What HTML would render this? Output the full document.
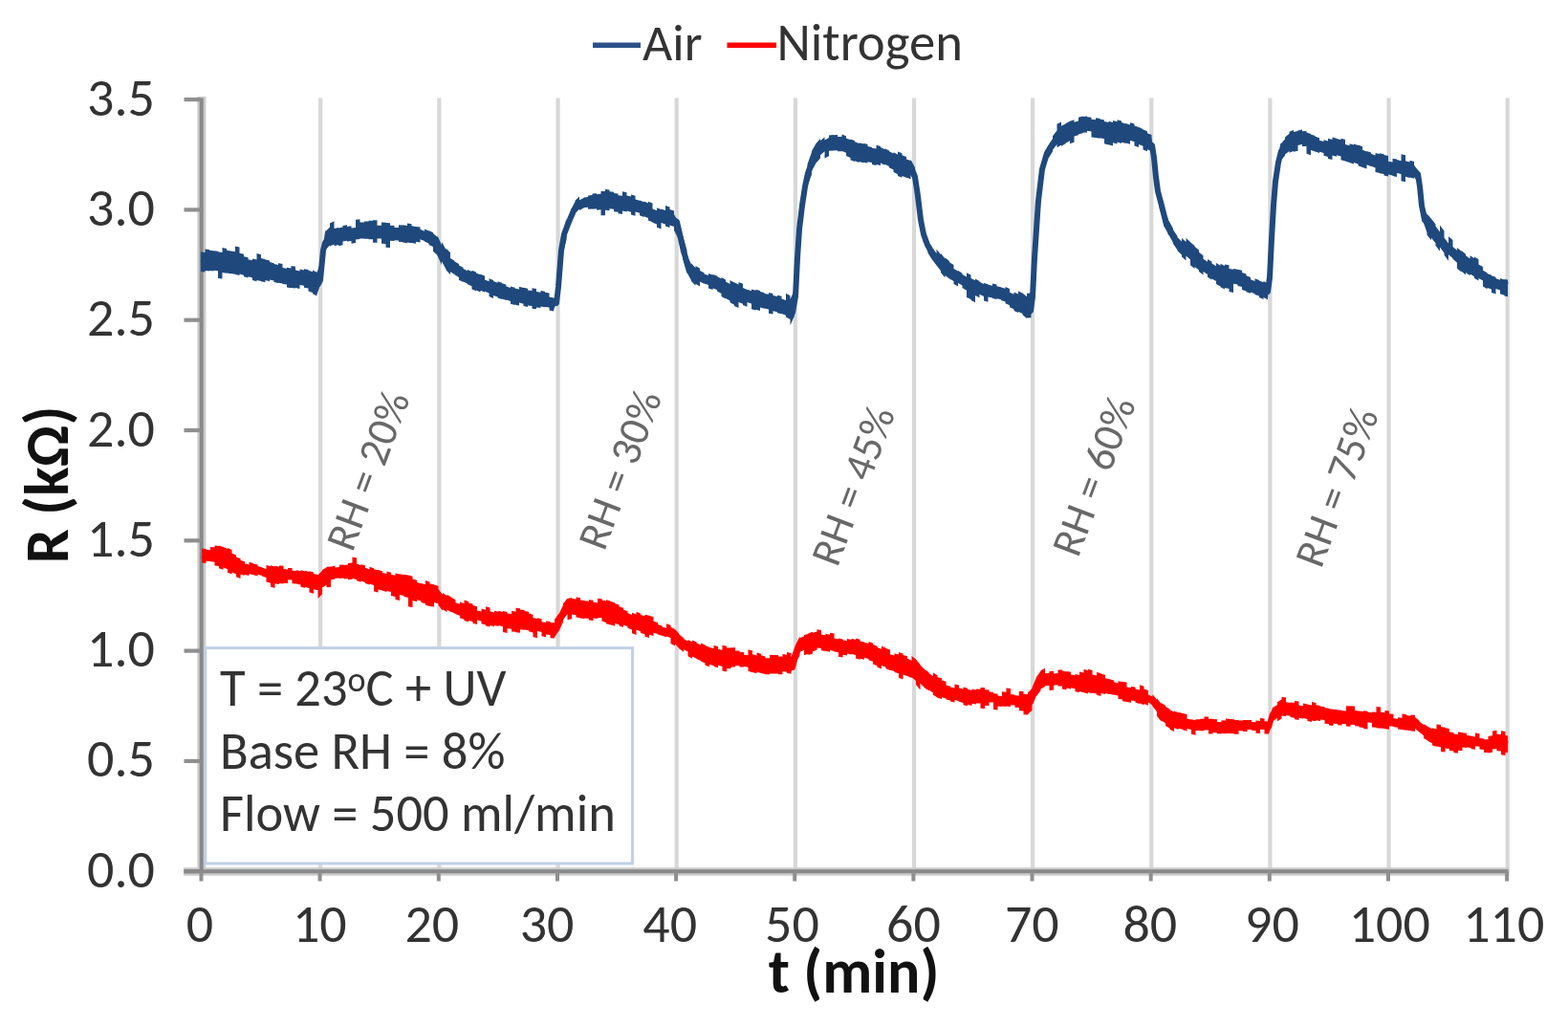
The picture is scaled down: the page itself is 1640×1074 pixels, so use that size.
<!DOCTYPE html>
<html><head><meta charset="utf-8"><title>Resistance vs time</title>
<style>html,body{margin:0;padding:0;background:#fff;} svg{display:block;filter:blur(0.6px)} text{font-family:Carlito, 'Liberation Sans', sans-serif;}</style>
</head><body>
<svg width="1640" height="1074" viewBox="0 0 1640 1074">
<rect width="1640" height="1074" fill="#fff"/>

<line x1="335.2" y1="102.6" x2="335.2" y2="911.2" stroke="#d8d8d8" stroke-width="4.2"/>
<line x1="459.4" y1="102.6" x2="459.4" y2="911.2" stroke="#d8d8d8" stroke-width="4.2"/>
<line x1="583.6" y1="102.6" x2="583.6" y2="911.2" stroke="#d8d8d8" stroke-width="4.2"/>
<line x1="707.7" y1="102.6" x2="707.7" y2="911.2" stroke="#d8d8d8" stroke-width="4.2"/>
<line x1="831.9" y1="102.6" x2="831.9" y2="911.2" stroke="#d8d8d8" stroke-width="4.2"/>
<line x1="956.0" y1="102.6" x2="956.0" y2="911.2" stroke="#d8d8d8" stroke-width="4.2"/>
<line x1="1080.1" y1="102.6" x2="1080.1" y2="911.2" stroke="#d8d8d8" stroke-width="4.2"/>
<line x1="1204.3" y1="102.6" x2="1204.3" y2="911.2" stroke="#d8d8d8" stroke-width="4.2"/>
<line x1="1328.4" y1="102.6" x2="1328.4" y2="911.2" stroke="#d8d8d8" stroke-width="4.2"/>
<line x1="1452.6" y1="102.6" x2="1452.6" y2="911.2" stroke="#d8d8d8" stroke-width="4.2"/>
<line x1="1576.7" y1="102.6" x2="1576.7" y2="911.2" stroke="#d8d8d8" stroke-width="4.2"/>
<line x1="210.9" y1="101.1" x2="210.9" y2="913.2" stroke="#cbcbcb" stroke-width="9"/>
<line x1="192" y1="911.4" x2="1578.5" y2="911.4" stroke="#cbcbcb" stroke-width="8.5"/>
<rect x="214.8" y="677.6" width="446.7" height="225.4" fill="#fff" stroke="#c0d1e7" stroke-width="3"/>
<line x1="210.7" y1="102.6" x2="210.7" y2="912.2" stroke="#898989" stroke-width="4"/>
<line x1="192.5" y1="911.2" x2="210" y2="911.2" stroke="#8f8f8f" stroke-width="4.2"/>
<line x1="192.5" y1="795.9" x2="210" y2="795.9" stroke="#8f8f8f" stroke-width="4.2"/>
<line x1="192.5" y1="680.6" x2="210" y2="680.6" stroke="#8f8f8f" stroke-width="4.2"/>
<line x1="192.5" y1="565.3" x2="210" y2="565.3" stroke="#8f8f8f" stroke-width="4.2"/>
<line x1="192.5" y1="450.0" x2="210" y2="450.0" stroke="#8f8f8f" stroke-width="4.2"/>
<line x1="192.5" y1="334.7" x2="210" y2="334.7" stroke="#8f8f8f" stroke-width="4.2"/>
<line x1="192.5" y1="219.4" x2="210" y2="219.4" stroke="#8f8f8f" stroke-width="4.2"/>
<line x1="192.5" y1="104.1" x2="210" y2="104.1" stroke="#8f8f8f" stroke-width="4.2"/>
<line x1="192.5" y1="911.2" x2="1577.5" y2="911.2" stroke="#898989" stroke-width="4"/>
<line x1="210.5" y1="911.2" x2="210.5" y2="921.5" stroke="#8f8f8f" stroke-width="4"/>
<line x1="334.6" y1="911.2" x2="334.6" y2="921.5" stroke="#8f8f8f" stroke-width="4"/>
<line x1="458.8" y1="911.2" x2="458.8" y2="921.5" stroke="#8f8f8f" stroke-width="4"/>
<line x1="583.0" y1="911.2" x2="583.0" y2="921.5" stroke="#8f8f8f" stroke-width="4"/>
<line x1="707.1" y1="911.2" x2="707.1" y2="921.5" stroke="#8f8f8f" stroke-width="4"/>
<line x1="831.2" y1="911.2" x2="831.2" y2="921.5" stroke="#8f8f8f" stroke-width="4"/>
<line x1="955.4" y1="911.2" x2="955.4" y2="921.5" stroke="#8f8f8f" stroke-width="4"/>
<line x1="1079.5" y1="911.2" x2="1079.5" y2="921.5" stroke="#8f8f8f" stroke-width="4"/>
<line x1="1203.7" y1="911.2" x2="1203.7" y2="921.5" stroke="#8f8f8f" stroke-width="4"/>
<line x1="1327.8" y1="911.2" x2="1327.8" y2="921.5" stroke="#8f8f8f" stroke-width="4"/>
<line x1="1452.0" y1="911.2" x2="1452.0" y2="921.5" stroke="#8f8f8f" stroke-width="4"/>
<line x1="1576.1" y1="911.2" x2="1576.1" y2="921.5" stroke="#8f8f8f" stroke-width="4"/>
<text x="162" y="927.7" font-size="56" fill="#333" text-anchor="end" textLength="70.9" lengthAdjust="spacingAndGlyphs">0.0</text>
<text x="162" y="812.4" font-size="56" fill="#333" text-anchor="end" textLength="70.9" lengthAdjust="spacingAndGlyphs">0.5</text>
<text x="162" y="697.1" font-size="56" fill="#333" text-anchor="end" textLength="70.9" lengthAdjust="spacingAndGlyphs">1.0</text>
<text x="162" y="581.8" font-size="56" fill="#333" text-anchor="end" textLength="70.9" lengthAdjust="spacingAndGlyphs">1.5</text>
<text x="162" y="466.5" font-size="56" fill="#333" text-anchor="end" textLength="70.9" lengthAdjust="spacingAndGlyphs">2.0</text>
<text x="162" y="351.2" font-size="56" fill="#333" text-anchor="end" textLength="70.9" lengthAdjust="spacingAndGlyphs">2.5</text>
<text x="162" y="235.9" font-size="56" fill="#333" text-anchor="end" textLength="70.9" lengthAdjust="spacingAndGlyphs">3.0</text>
<text x="162" y="120.6" font-size="56" fill="#333" text-anchor="end" textLength="70.9" lengthAdjust="spacingAndGlyphs">3.5</text>
<text x="209.0" y="984.5" font-size="56" fill="#333" text-anchor="middle" textLength="28.4" lengthAdjust="spacingAndGlyphs">0</text>
<text x="334.3" y="984.5" font-size="56" fill="#333" text-anchor="middle" textLength="56.77" lengthAdjust="spacingAndGlyphs">10</text>
<text x="451.8" y="984.5" font-size="56" fill="#333" text-anchor="middle" textLength="56.77" lengthAdjust="spacingAndGlyphs">20</text>
<text x="572.1" y="984.5" font-size="56" fill="#333" text-anchor="middle" textLength="56.77" lengthAdjust="spacingAndGlyphs">30</text>
<text x="700.7" y="984.5" font-size="56" fill="#333" text-anchor="middle" textLength="56.77" lengthAdjust="spacingAndGlyphs">40</text>
<text x="828.4" y="984.5" font-size="56" fill="#333" text-anchor="middle" textLength="56.77" lengthAdjust="spacingAndGlyphs">50</text>
<text x="955.4" y="984.5" font-size="56" fill="#333" text-anchor="middle" textLength="56.77" lengthAdjust="spacingAndGlyphs">60</text>
<text x="1079.3" y="984.5" font-size="56" fill="#333" text-anchor="middle" textLength="56.77" lengthAdjust="spacingAndGlyphs">70</text>
<text x="1202.8" y="984.5" font-size="56" fill="#333" text-anchor="middle" textLength="56.77" lengthAdjust="spacingAndGlyphs">80</text>
<text x="1330.5" y="984.5" font-size="56" fill="#333" text-anchor="middle" textLength="56.77" lengthAdjust="spacingAndGlyphs">90</text>
<text x="1453.3" y="984.5" font-size="56" fill="#333" text-anchor="middle" textLength="85.16" lengthAdjust="spacingAndGlyphs">100</text>
<text x="1572.8" y="984.5" font-size="56" fill="#333" text-anchor="middle" textLength="85.16" lengthAdjust="spacingAndGlyphs">110</text>
<text x="893" y="1037.5" font-size="64" font-weight="bold" fill="#111" text-anchor="middle" textLength="178.66" lengthAdjust="spacingAndGlyphs">t (min)</text>
<text transform="translate(70.5,507) rotate(-90)" font-size="64" font-weight="bold" fill="#111" text-anchor="middle" textLength="164.66" lengthAdjust="spacingAndGlyphs">R (kΩ)</text>
<line x1="620" y1="47.2" x2="670" y2="47.2" stroke="#2a5189" stroke-width="5.5"/>
<text x="672" y="63.3" font-size="54" fill="#333" textLength="62.47" lengthAdjust="spacingAndGlyphs">Air</text>
<line x1="760.5" y1="47.2" x2="812" y2="47.2" stroke="#ff0000" stroke-width="5.5"/>
<text x="812.5" y="63.3" font-size="54.7" fill="#333" textLength="194.44" lengthAdjust="spacingAndGlyphs">Nitrogen</text>
<text x="230" y="737.6" font-size="54.5" fill="#333" textLength="299.33" lengthAdjust="spacingAndGlyphs">T = 23<tspan font-size="36" dy="-15">o</tspan><tspan dy="15">C + UV</tspan></text>
<text x="230" y="804" font-size="54.5" fill="#333" textLength="298.42" lengthAdjust="spacingAndGlyphs">Base RH = 8%</text>
<text x="230" y="869.3" font-size="54.5" fill="#333" textLength="413.78" lengthAdjust="spacingAndGlyphs">Flow = 500 ml/min</text>
<text transform="translate(368.5,578.4) rotate(-69.5)" font-size="45" fill="#686868" textLength="173.02" lengthAdjust="spacingAndGlyphs">RH = 20%</text>
<text transform="translate(632,577.5) rotate(-69.5)" font-size="45" fill="#686868" textLength="173.02" lengthAdjust="spacingAndGlyphs">RH = 30%</text>
<text transform="translate(875.8,594.3) rotate(-69.5)" font-size="45" fill="#686868" textLength="173.02" lengthAdjust="spacingAndGlyphs">RH = 45%</text>
<text transform="translate(1127.6,584.3) rotate(-69.5)" font-size="45" fill="#686868" textLength="173.02" lengthAdjust="spacingAndGlyphs">RH = 60%</text>
<text transform="translate(1381.7,595.7) rotate(-69.5)" font-size="45" fill="#686868" textLength="173.02" lengthAdjust="spacingAndGlyphs">RH = 75%</text>
<path d="M211.0,573.6 L215.5,574.1 L215.5,574.7 L220.0,575.2 L220.0,572.1 L224.5,572.6 L224.5,570.6 L229.0,571.1 L229.0,570.5 L233.5,572.0 L233.5,572.1 L238.0,573.9 L238.0,573.1 L242.5,574.9 L242.5,578.6 L247.0,580.4 L247.0,582.4 L251.5,584.0 L251.5,586.1 L256.0,587.2 L256.0,590.5 L260.5,591.6 L260.5,587.7 L265.0,588.9 L265.0,589.5 L269.5,590.6 L269.5,592.0 L274.0,593.3 L274.0,593.6 L278.5,595.0 L278.5,590.9 L283.0,592.3 L283.0,591.2 L287.5,592.5 L287.5,591.8 L292.0,592.7 L292.0,591.5 L296.5,591.7 L296.5,595.1 L301.0,595.4 L301.0,593.9 L305.5,594.1 L305.5,596.7 L310.0,596.9 L310.0,596.2 L314.5,597.3 L314.5,596.3 L319.0,597.4 L319.0,596.8 L323.5,597.9 L323.5,597.3 L328.0,598.4 L328.0,600.0 L332.5,601.0 L332.5,601.6 L337.0,596.7 L337.0,596.1 L341.5,593.4 L341.5,592.7 L346.0,592.5 L346.0,592.5 L350.5,591.7 L350.5,593.4 L355.0,592.9 L355.0,590.8 L359.5,590.4 L359.5,591.0 L364.0,590.5 L364.0,589.0 L368.5,588.5 L368.5,582.6 L373.0,583.5 L373.0,589.6 L377.5,591.2 L377.5,589.9 L382.0,591.4 L382.0,593.8 L386.5,595.4 L386.5,592.7 L391.0,594.2 L391.0,595.2 L395.5,596.3 L395.5,596.0 L400.0,597.2 L400.0,598.9 L404.5,600.0 L404.5,597.6 L409.0,598.7 L409.0,600.8 L413.5,601.7 L413.5,599.5 L418.0,600.4 L418.0,600.3 L422.5,601.2 L422.5,600.7 L427.0,601.6 L427.0,601.6 L431.5,602.7 L431.5,605.4 L436.0,606.8 L436.0,609.0 L440.5,610.3 L440.5,609.9 L445.0,611.3 L445.0,607.1 L449.5,608.5 L449.5,610.6 L454.0,611.2 L454.0,611.4 L458.5,612.7 L458.5,616.1 L463.0,622.0 L463.0,620.1 L467.5,622.9 L467.5,621.8 L472.0,624.5 L472.0,624.8 L476.5,627.2 L476.5,630.3 L481.0,631.8 L481.0,629.5 L485.5,631.0 L485.5,627.5 L490.0,629.0 L490.0,630.4 L494.5,631.5 L494.5,633.1 L499.0,634.2 L499.0,638.5 L503.5,639.6 L503.5,636.6 L508.0,637.7 L508.0,634.3 L512.5,635.5 L512.5,639.2 L517.0,640.4 L517.0,638.7 L521.5,639.8 L521.5,638.8 L526.0,639.9 L526.0,638.9 L530.5,640.0 L530.5,641.5 L535.0,641.9 L535.0,639.1 L539.5,639.5 L539.5,635.7 L544.0,636.2 L544.0,637.4 L548.5,637.9 L548.5,638.9 L553.0,639.8 L553.0,641.6 L557.5,642.7 L557.5,645.9 L562.0,647.1 L562.0,646.2 L566.5,647.3 L566.5,650.2 L571.0,651.1 L571.0,649.5 L575.5,649.9 L575.5,651.0 L580.0,651.3 L580.0,648.1 L584.5,641.6 L584.5,642.2 L589.0,632.9 L589.0,631.3 L593.5,625.8 L593.5,626.1 L598.0,625.0 L598.0,626.0 L602.5,626.6 L602.5,624.6 L607.0,625.2 L607.0,627.4 L611.5,628.0 L611.5,628.2 L616.0,628.7 L616.0,627.2 L620.5,627.7 L620.5,629.8 L625.0,630.2 L625.0,625.8 L629.5,626.3 L629.5,627.4 L634.0,628.6 L634.0,627.2 L638.5,628.5 L638.5,628.9 L643.0,630.2 L643.0,631.1 L647.5,632.5 L647.5,634.3 L652.0,635.8 L652.0,637.4 L656.5,639.2 L656.5,641.1 L661.0,642.9 L661.0,640.8 L665.5,642.6 L665.5,639.7 L670.0,641.5 L670.0,643.1 L674.5,644.2 L674.5,642.7 L679.0,643.8 L679.0,643.9 L683.5,645.1 L683.5,649.8 L688.0,650.9 L688.0,653.1 L692.5,654.4 L692.5,655.4 L697.0,656.9 L697.0,652.2 L701.5,653.7 L701.5,655.8 L706.0,658.1 L706.0,657.9 L710.5,663.0 L710.5,663.7 L715.0,667.1 L715.0,668.1 L719.5,670.5 L719.5,668.9 L724.0,671.3 L724.0,669.4 L728.5,671.5 L728.5,672.3 L733.0,674.4 L733.0,672.5 L737.5,674.6 L737.5,675.1 L742.0,676.8 L742.0,677.0 L746.5,678.1 L746.5,675.0 L751.0,676.1 L751.0,678.7 L755.5,679.8 L755.5,674.7 L760.0,675.8 L760.0,677.4 L764.5,677.4 L764.5,677.3 L769.0,677.3 L769.0,680.6 L773.5,680.6 L773.5,682.0 L778.0,682.0 L778.0,684.5 L782.5,685.3 L782.5,679.2 L787.0,680.6 L787.0,684.3 L791.5,685.6 L791.5,682.4 L796.0,683.8 L796.0,685.3 L800.5,686.5 L800.5,688.3 L805.0,688.3 L805.0,684.9 L809.5,684.9 L809.5,685.1 L814.0,685.1 L814.0,686.5 L818.5,686.5 L818.5,684.1 L823.0,684.8 L823.0,682.0 L827.5,683.0 L827.5,687.3 L832.0,674.6 L832.0,674.6 L836.5,665.6 L836.5,667.2 L841.0,665.2 L841.0,664.0 L845.5,662.9 L845.5,662.2 L850.0,660.8 L850.0,661.8 L854.5,660.4 L854.5,658.2 L859.0,658.9 L859.0,663.4 L863.5,664.3 L863.5,662.8 L868.0,663.7 L868.0,661.7 L872.5,662.6 L872.5,667.6 L877.0,668.5 L877.0,667.6 L881.5,668.5 L881.5,669.3 L886.0,670.2 L886.0,668.0 L890.5,669.0 L890.5,667.8 L895.0,668.9 L895.0,667.6 L899.5,668.7 L899.5,670.5 L904.0,671.6 L904.0,671.8 L908.5,672.9 L908.5,671.0 L913.0,672.6 L913.0,673.9 L917.5,675.7 L917.5,676.9 L922.0,678.7 L922.0,675.8 L926.5,677.6 L926.5,677.9 L931.0,679.6 L931.0,684.2 L935.5,685.6 L935.5,683.2 L940.0,684.6 L940.0,682.1 L944.5,683.4 L944.5,684.9 L949.0,686.3 L949.0,688.7 L953.5,690.7 L953.5,685.9 L958.0,689.6 L958.0,689.5 L962.5,695.0 L962.5,695.5 L967.0,699.9 L967.0,700.0 L971.5,703.0 L971.5,704.0 L976.0,707.0 L976.0,703.4 L980.5,706.2 L980.5,708.2 L985.0,709.3 L985.0,711.6 L989.5,712.8 L989.5,716.5 L994.0,717.7 L994.0,718.5 L998.5,719.6 L998.5,715.4 L1003.0,716.5 L1003.0,719.4 L1007.5,720.5 L1007.5,718.6 L1012.0,719.7 L1012.0,720.7 L1016.5,721.9 L1016.5,720.5 L1021.0,721.4 L1021.0,720.5 L1025.5,720.7 L1025.5,719.1 L1030.0,719.3 L1030.0,721.3 L1034.5,721.5 L1034.5,723.6 L1039.0,723.8 L1039.0,725.2 L1043.5,725.6 L1043.5,727.6 L1048.0,728.1 L1048.0,723.3 L1052.5,723.7 L1052.5,719.5 L1057.0,720.0 L1057.0,726.1 L1061.5,726.5 L1061.5,727.2 L1066.0,727.5 L1066.0,722.8 L1070.5,723.1 L1070.5,725.7 L1075.0,725.9 L1075.0,724.2 L1079.5,719.9 L1079.5,718.7 L1084.0,708.5 L1084.0,707.9 L1088.5,701.7 L1088.5,701.2 L1093.0,698.8 L1093.0,704.2 L1097.5,703.7 L1097.5,702.1 L1102.0,701.7 L1102.0,704.6 L1106.5,704.1 L1106.5,700.6 L1111.0,700.5 L1111.0,701.5 L1115.5,702.4 L1115.5,701.9 L1120.0,702.8 L1120.0,705.4 L1124.5,706.3 L1124.5,705.1 L1129.0,706.0 L1129.0,702.6 L1133.5,703.6 L1133.5,700.0 L1138.0,701.1 L1138.0,699.8 L1142.5,700.9 L1142.5,705.5 L1147.0,706.6 L1147.0,703.0 L1151.5,704.1 L1151.5,704.7 L1156.0,705.8 L1156.0,709.2 L1160.5,710.3 L1160.5,710.3 L1165.0,711.4 L1165.0,713.3 L1169.5,714.4 L1169.5,712.3 L1174.0,713.0 L1174.0,712.9 L1178.5,713.5 L1178.5,718.5 L1183.0,719.2 L1183.0,717.9 L1187.5,718.6 L1187.5,720.5 L1192.0,721.6 L1192.0,716.2 L1196.5,717.8 L1196.5,720.5 L1201.0,722.1 L1201.0,726.3 L1205.5,729.2 L1205.5,726.0 L1210.0,731.7 L1210.0,730.2 L1214.5,735.9 L1214.5,734.9 L1219.0,737.7 L1219.0,739.0 L1223.5,741.4 L1223.5,742.2 L1228.0,744.6 L1228.0,743.6 L1232.5,745.3 L1232.5,744.8 L1237.0,745.9 L1237.0,746.0 L1241.5,747.1 L1241.5,751.4 L1246.0,752.6 L1246.0,752.2 L1250.5,753.2 L1250.5,752.3 L1255.0,752.3 L1255.0,751.8 L1259.5,751.8 L1259.5,749.4 L1264.0,749.4 L1264.0,751.8 L1268.5,751.8 L1268.5,752.1 L1273.0,752.3 L1273.0,754.9 L1277.5,755.2 L1277.5,753.2 L1282.0,753.4 L1282.0,751.6 L1286.5,751.8 L1286.5,752.0 L1291.0,752.2 L1291.0,752.9 L1295.5,752.9 L1295.5,753.4 L1300.0,753.4 L1300.0,753.1 L1304.5,753.1 L1304.5,752.9 L1309.0,752.9 L1309.0,755.1 L1313.5,755.3 L1313.5,753.6 L1318.0,753.9 L1318.0,751.1 L1322.5,751.4 L1322.5,754.2 L1327.0,754.5 L1327.0,752.1 L1331.5,738.7 L1331.5,740.0 L1336.0,737.0 L1336.0,734.2 L1340.5,731.6 L1340.5,728.8 L1345.0,729.5 L1345.0,734.2 L1349.5,734.9 L1349.5,734.5 L1354.0,735.1 L1354.0,732.9 L1358.5,733.6 L1358.5,737.5 L1363.0,738.3 L1363.0,735.5 L1367.5,736.4 L1367.5,736.7 L1372.0,737.6 L1372.0,734.1 L1376.5,735.0 L1376.5,737.2 L1381.0,738.0 L1381.0,738.7 L1385.5,739.1 L1385.5,740.2 L1390.0,740.7 L1390.0,741.3 L1394.5,741.8 L1394.5,741.8 L1399.0,742.3 L1399.0,742.5 L1403.5,742.8 L1403.5,743.3 L1408.0,743.5 L1408.0,738.3 L1412.5,738.5 L1412.5,738.2 L1417.0,738.5 L1417.0,743.1 L1421.5,743.4 L1421.5,743.5 L1426.0,743.9 L1426.0,743.3 L1430.5,743.7 L1430.5,744.7 L1435.0,745.2 L1435.0,744.4 L1439.5,744.8 L1439.5,739.0 L1444.0,739.5 L1444.0,744.7 L1448.5,745.2 L1448.5,743.0 L1453.0,743.4 L1453.0,746.4 L1457.5,746.8 L1457.5,751.2 L1462.0,751.7 L1462.0,750.2 L1466.5,750.8 L1466.5,746.4 L1471.0,747.1 L1471.0,748.1 L1475.5,748.8 L1475.5,747.4 L1480.0,748.0 L1480.0,749.9 L1484.5,753.5 L1484.5,754.4 L1489.0,758.0 L1489.0,757.2 L1493.5,759.8 L1493.5,760.1 L1498.0,762.3 L1498.0,761.2 L1502.5,762.5 L1502.5,757.4 L1507.0,758.0 L1507.0,760.0 L1511.5,760.7 L1511.5,761.2 L1516.0,761.9 L1516.0,765.4 L1520.5,766.1 L1520.5,767.4 L1525.0,767.9 L1525.0,765.4 L1529.5,765.9 L1529.5,766.3 L1534.0,766.7 L1534.0,769.1 L1538.5,769.6 L1538.5,769.8 L1543.0,770.4 L1543.0,766.6 L1547.5,767.2 L1547.5,772.0 L1552.0,772.6 L1552.0,773.2 L1556.5,773.3 L1556.5,770.0 L1561.0,769.3 L1561.0,764.5 L1565.5,763.8 L1565.5,767.7 L1570.0,768.1 L1570.0,764.2 L1574.5,765.1 L1574.5,769.0 L1577.0,769.5 L1577.0,787.3 L1574.5,786.8 L1574.5,790.1 L1570.0,789.2 L1570.0,785.6 L1565.5,785.2 L1565.5,782.9 L1561.0,783.6 L1561.0,786.7 L1556.5,787.4 L1556.5,787.0 L1552.0,786.9 L1552.0,784.0 L1547.5,783.4 L1547.5,780.8 L1543.0,780.2 L1543.0,783.7 L1538.5,783.2 L1538.5,781.9 L1534.0,781.4 L1534.0,782.0 L1529.5,781.6 L1529.5,785.2 L1525.0,784.8 L1525.0,787.6 L1520.5,787.2 L1520.5,785.6 L1516.0,784.9 L1516.0,783.3 L1511.5,782.6 L1511.5,786.6 L1507.0,785.9 L1507.0,781.2 L1502.5,780.6 L1502.5,780.8 L1498.0,779.4 L1498.0,777.3 L1493.5,775.0 L1493.5,774.5 L1489.0,772.0 L1489.0,769.1 L1484.5,765.5 L1484.5,765.2 L1480.0,761.6 L1480.0,765.0 L1475.5,764.3 L1475.5,764.2 L1471.0,763.5 L1471.0,763.7 L1466.5,763.0 L1466.5,763.1 L1462.0,762.4 L1462.0,760.8 L1457.5,760.2 L1457.5,759.7 L1453.0,759.2 L1453.0,762.7 L1448.5,762.2 L1448.5,762.0 L1444.0,761.6 L1444.0,761.8 L1439.5,761.3 L1439.5,760.8 L1435.0,760.4 L1435.0,755.7 L1430.5,755.2 L1430.5,762.4 L1426.0,762.0 L1426.0,761.0 L1421.5,760.6 L1421.5,759.6 L1417.0,759.3 L1417.0,758.1 L1412.5,757.8 L1412.5,759.8 L1408.0,759.6 L1408.0,757.3 L1403.5,757.0 L1403.5,758.5 L1399.0,758.2 L1399.0,756.9 L1394.5,756.5 L1394.5,759.1 L1390.0,758.6 L1390.0,757.1 L1385.5,756.7 L1385.5,752.9 L1381.0,752.4 L1381.0,754.1 L1376.5,753.3 L1376.5,754.3 L1372.0,753.4 L1372.0,755.0 L1367.5,754.1 L1367.5,752.0 L1363.0,751.1 L1363.0,751.6 L1358.5,750.8 L1358.5,752.9 L1354.0,752.2 L1354.0,750.8 L1349.5,750.1 L1349.5,748.8 L1345.0,748.1 L1345.0,749.1 L1340.5,748.5 L1340.5,751.6 L1336.0,754.2 L1336.0,750.9 L1331.5,753.9 L1331.5,754.2 L1327.0,767.5 L1327.0,767.6 L1322.5,767.4 L1322.5,763.1 L1318.0,762.8 L1318.0,767.1 L1313.5,766.8 L1313.5,763.9 L1309.0,763.7 L1309.0,763.1 L1304.5,763.1 L1304.5,764.9 L1300.0,764.9 L1300.0,764.2 L1295.5,764.2 L1295.5,767.8 L1291.0,767.8 L1291.0,767.2 L1286.5,767.0 L1286.5,767.1 L1282.0,766.9 L1282.0,767.2 L1277.5,766.9 L1277.5,767.6 L1273.0,767.3 L1273.0,766.2 L1268.5,766.1 L1268.5,767.5 L1264.0,767.5 L1264.0,763.6 L1259.5,763.6 L1259.5,764.2 L1255.0,764.2 L1255.0,764.0 L1250.5,764.0 L1250.5,768.8 L1246.0,767.8 L1246.0,763.0 L1241.5,761.9 L1241.5,764.4 L1237.0,763.2 L1237.0,762.8 L1232.5,761.7 L1232.5,762.9 L1228.0,761.2 L1228.0,765.1 L1223.5,762.7 L1223.5,761.5 L1219.0,759.1 L1219.0,756.2 L1214.5,753.4 L1214.5,754.4 L1210.0,748.7 L1210.0,744.2 L1205.5,738.4 L1205.5,737.6 L1201.0,734.6 L1201.0,737.7 L1196.5,736.1 L1196.5,737.2 L1192.0,735.6 L1192.0,735.9 L1187.5,734.8 L1187.5,733.3 L1183.0,732.6 L1183.0,734.8 L1178.5,734.1 L1178.5,734.0 L1174.0,733.3 L1174.0,731.5 L1169.5,730.8 L1169.5,727.5 L1165.0,726.4 L1165.0,726.8 L1160.5,725.7 L1160.5,726.1 L1156.0,725.0 L1156.0,726.0 L1151.5,724.9 L1151.5,728.0 L1147.0,726.8 L1147.0,725.5 L1142.5,724.4 L1142.5,725.2 L1138.0,724.0 L1138.0,725.4 L1133.5,724.2 L1133.5,724.2 L1129.0,723.1 L1129.0,724.1 L1124.5,723.2 L1124.5,720.2 L1120.0,719.3 L1120.0,720.4 L1115.5,719.5 L1115.5,721.5 L1111.0,720.6 L1111.0,717.5 L1106.5,717.6 L1106.5,716.3 L1102.0,716.8 L1102.0,721.6 L1097.5,722.1 L1097.5,716.9 L1093.0,717.3 L1093.0,718.1 L1088.5,720.5 L1088.5,722.1 L1084.0,728.2 L1084.0,727.3 L1079.5,737.5 L1079.5,742.8 L1075.0,747.1 L1075.0,747.6 L1070.5,747.3 L1070.5,743.4 L1066.0,743.2 L1066.0,740.0 L1061.5,739.7 L1061.5,737.6 L1057.0,737.2 L1057.0,739.0 L1052.5,738.5 L1052.5,739.1 L1048.0,738.6 L1048.0,738.9 L1043.5,738.4 L1043.5,742.5 L1039.0,742.1 L1039.0,734.6 L1034.5,734.4 L1034.5,738.1 L1030.0,737.9 L1030.0,741.0 L1025.5,740.8 L1025.5,735.6 L1021.0,735.4 L1021.0,736.6 L1016.5,735.7 L1016.5,737.9 L1012.0,736.8 L1012.0,738.3 L1007.5,737.2 L1007.5,735.0 L1003.0,733.8 L1003.0,733.2 L998.5,732.1 L998.5,734.6 L994.0,733.4 L994.0,732.6 L989.5,731.4 L989.5,730.4 L985.0,729.3 L985.0,730.9 L980.5,729.8 L980.5,729.6 L976.0,726.8 L976.0,724.4 L971.5,721.4 L971.5,722.2 L967.0,719.2 L967.0,719.1 L962.5,714.7 L962.5,721.6 L958.0,716.1 L958.0,711.9 L953.5,708.3 L953.5,709.1 L949.0,707.1 L949.0,706.9 L944.5,705.5 L944.5,710.3 L940.0,708.9 L940.0,704.3 L935.5,703.0 L935.5,702.0 L931.0,700.7 L931.0,700.9 L926.5,699.2 L926.5,697.8 L922.0,696.0 L922.0,699.5 L917.5,697.7 L917.5,696.2 L913.0,694.4 L913.0,691.8 L908.5,690.3 L908.5,688.9 L904.0,687.8 L904.0,689.8 L899.5,688.7 L899.5,689.7 L895.0,688.6 L895.0,685.1 L890.5,684.0 L890.5,684.4 L886.0,683.5 L886.0,685.6 L881.5,684.7 L881.5,687.6 L877.0,686.7 L877.0,682.3 L872.5,681.4 L872.5,680.9 L868.0,680.0 L868.0,681.7 L863.5,680.8 L863.5,681.1 L859.0,680.2 L859.0,678.1 L854.5,677.4 L854.5,679.8 L850.0,681.2 L850.0,683.5 L845.5,684.9 L845.5,683.9 L841.0,685.1 L841.0,679.8 L836.5,681.8 L836.5,685.2 L832.0,694.2 L832.0,690.2 L827.5,702.9 L827.5,704.8 L823.0,703.8 L823.0,702.7 L818.5,702.1 L818.5,705.2 L814.0,705.2 L814.0,704.5 L809.5,704.5 L809.5,704.5 L805.0,704.5 L805.0,705.3 L800.5,705.3 L800.5,705.1 L796.0,703.9 L796.0,703.9 L791.5,702.6 L791.5,704.2 L787.0,702.9 L787.0,703.2 L782.5,701.8 L782.5,697.7 L778.0,696.9 L778.0,697.6 L773.5,697.6 L773.5,696.2 L769.0,696.2 L769.0,697.6 L764.5,697.6 L764.5,699.3 L760.0,699.3 L760.0,702.5 L755.5,701.4 L755.5,696.9 L751.0,695.7 L751.0,698.2 L746.5,697.1 L746.5,696.1 L742.0,695.0 L742.0,697.3 L737.5,695.7 L737.5,693.5 L733.0,691.4 L733.0,691.1 L728.5,689.0 L728.5,688.7 L724.0,686.5 L724.0,688.8 L719.5,686.3 L719.5,681.6 L715.0,679.2 L715.0,681.7 L710.5,678.4 L710.5,678.4 L706.0,673.2 L706.0,675.4 L701.5,673.1 L701.5,666.9 L697.0,665.4 L697.0,666.2 L692.5,664.7 L692.5,664.7 L688.0,663.4 L688.0,662.9 L683.5,661.7 L683.5,664.9 L679.0,663.8 L679.0,666.9 L674.5,665.7 L674.5,663.2 L670.0,662.1 L670.0,660.2 L665.5,658.4 L665.5,664.1 L661.0,662.3 L661.0,658.5 L656.5,656.7 L656.5,655.2 L652.0,653.4 L652.0,656.1 L647.5,654.6 L647.5,653.2 L643.0,651.8 L643.0,654.7 L638.5,653.3 L638.5,653.5 L634.0,652.2 L634.0,650.9 L629.5,649.6 L629.5,646.3 L625.0,645.9 L625.0,646.9 L620.5,646.5 L620.5,648.9 L616.0,648.4 L616.0,647.1 L611.5,646.6 L611.5,647.1 L607.0,646.5 L607.0,646.2 L602.5,645.6 L602.5,643.2 L598.0,642.6 L598.0,647.2 L593.5,648.3 L593.5,642.3 L589.0,647.8 L589.0,650.6 L584.5,660.0 L584.5,659.8 L580.0,666.3 L580.0,667.6 L575.5,667.3 L575.5,663.9 L571.0,663.5 L571.0,666.2 L566.5,665.3 L566.5,661.1 L562.0,660.0 L562.0,667.2 L557.5,666.0 L557.5,661.4 L553.0,660.3 L553.0,659.3 L548.5,658.4 L548.5,658.7 L544.0,658.2 L544.0,661.7 L539.5,661.3 L539.5,660.8 L535.0,660.4 L535.0,657.7 L530.5,657.2 L530.5,661.9 L526.0,660.9 L526.0,655.2 L521.5,654.0 L521.5,655.1 L517.0,653.9 L517.0,655.2 L512.5,654.0 L512.5,655.5 L508.0,654.4 L508.0,653.5 L503.5,652.3 L503.5,649.5 L499.0,648.4 L499.0,652.9 L494.5,651.7 L494.5,650.0 L490.0,648.9 L490.0,650.5 L485.5,649.0 L485.5,647.8 L481.0,646.3 L481.0,643.7 L476.5,642.2 L476.5,642.0 L472.0,639.7 L472.0,640.2 L467.5,637.4 L467.5,640.0 L463.0,637.3 L463.0,638.8 L458.5,632.9 L458.5,631.3 L454.0,630.0 L454.0,634.6 L449.5,633.9 L449.5,634.1 L445.0,632.7 L445.0,631.3 L440.5,629.9 L440.5,628.6 L436.0,627.2 L436.0,629.2 L431.5,627.9 L431.5,635.3 L427.0,634.2 L427.0,624.9 L422.5,624.0 L422.5,622.9 L418.0,622.0 L418.0,628.0 L413.5,627.1 L413.5,624.1 L409.0,623.1 L409.0,619.1 L404.5,617.9 L404.5,618.9 L400.0,617.7 L400.0,617.5 L395.5,616.4 L395.5,619.5 L391.0,618.4 L391.0,612.1 L386.5,610.6 L386.5,611.6 L382.0,610.0 L382.0,609.0 L377.5,607.4 L377.5,608.8 L373.0,607.2 L373.0,606.0 L368.5,605.1 L368.5,605.7 L364.0,606.2 L364.0,605.0 L359.5,605.5 L359.5,604.5 L355.0,604.9 L355.0,604.4 L350.5,604.8 L350.5,605.6 L346.0,606.4 L346.0,614.0 L341.5,614.2 L341.5,611.7 L337.0,614.4 L337.0,621.2 L332.5,626.1 L332.5,617.2 L328.0,616.2 L328.0,620.8 L323.5,619.6 L323.5,615.1 L319.0,614.0 L319.0,614.8 L314.5,613.7 L314.5,611.6 L310.0,610.5 L310.0,610.4 L305.5,610.2 L305.5,606.6 L301.0,606.3 L301.0,609.9 L296.5,609.7 L296.5,610.4 L292.0,610.1 L292.0,611.1 L287.5,610.3 L287.5,615.0 L283.0,613.6 L283.0,609.8 L278.5,608.4 L278.5,603.9 L274.0,602.5 L274.0,602.0 L269.5,600.7 L269.5,602.5 L265.0,601.3 L265.0,601.2 L260.5,600.1 L260.5,602.1 L256.0,601.0 L256.0,601.8 L251.5,600.7 L251.5,604.9 L247.0,603.3 L247.0,600.3 L242.5,598.5 L242.5,600.5 L238.0,598.7 L238.0,595.2 L233.5,593.4 L233.5,595.8 L229.0,594.3 L229.0,592.0 L224.5,591.5 L224.5,587.8 L220.0,587.3 L220.0,587.1 L215.5,586.7 L215.5,589.0 L211.0,588.5Z" fill="#ff0000" stroke="none"/>
<path d="M211.0,581.0 L212.0,581.1 L213.0,581.2 L214.0,581.3 L215.0,581.4 L216.0,581.5 L217.0,581.6 L218.0,581.7 L219.0,581.8 L220.0,581.9 L221.0,582.1 L222.0,582.2 L223.0,582.3 L224.0,582.4 L225.0,582.5 L226.0,582.6 L227.0,582.7 L228.0,582.8 L229.0,582.9 L230.0,583.0 L231.0,583.4 L232.0,583.8 L233.0,584.2 L234.0,584.6 L235.0,585.0 L236.0,585.4 L237.0,585.8 L238.0,586.2 L239.0,586.6 L240.0,587.0 L241.0,587.4 L242.0,587.8 L243.0,588.2 L244.0,588.6 L245.0,589.0 L246.0,589.4 L247.0,589.8 L248.0,590.2 L249.0,590.6 L250.0,591.0 L251.0,591.2 L252.0,591.5 L253.0,591.8 L254.0,592.0 L255.0,592.2 L256.0,592.5 L257.0,592.8 L258.0,593.0 L259.0,593.2 L260.0,593.5 L261.0,593.8 L262.0,594.0 L263.0,594.2 L264.0,594.5 L265.0,594.8 L266.0,595.0 L267.0,595.2 L268.0,595.5 L269.0,595.8 L270.0,596.0 L271.0,596.3 L272.0,596.6 L273.0,596.9 L274.0,597.2 L275.0,597.5 L276.0,597.8 L277.0,598.1 L278.0,598.4 L279.0,598.7 L280.0,599.0 L281.0,599.3 L282.0,599.6 L283.0,599.9 L284.0,600.2 L285.0,600.5 L286.0,600.8 L287.0,601.1 L288.0,601.4 L289.0,601.7 L290.0,602.0 L291.0,602.0 L292.0,602.1 L293.0,602.1 L294.0,602.2 L295.0,602.2 L296.0,602.3 L297.0,602.4 L298.0,602.4 L299.0,602.5 L300.0,602.5 L301.0,602.5 L302.0,602.6 L303.0,602.6 L304.0,602.7 L305.0,602.8 L306.0,602.8 L307.0,602.9 L308.0,602.9 L309.0,603.0 L310.0,603.0 L311.0,603.2 L312.0,603.5 L313.0,603.8 L314.0,604.0 L315.0,604.2 L316.0,604.5 L317.0,604.8 L318.0,605.0 L319.0,605.2 L320.0,605.5 L321.0,605.8 L322.0,606.0 L323.0,606.2 L324.0,606.5 L325.0,606.8 L326.0,607.0 L327.0,607.2 L328.0,607.5 L329.0,607.8 L330.0,608.0 L331.0,608.2 L332.0,608.4 L333.0,608.6 L334.0,608.8 L335.0,609.0 L336.0,606.3 L337.0,603.7 L338.0,601.0 L339.0,601.0 L340.0,601.0 L341.0,601.0 L342.0,601.0 L343.0,601.0 L344.0,601.0 L345.0,601.0 L346.0,600.8 L347.0,600.6 L348.0,600.4 L349.0,600.2 L350.0,600.0 L351.0,599.9 L352.0,599.8 L353.0,599.7 L354.0,599.6 L355.0,599.5 L356.0,599.4 L357.0,599.3 L358.0,599.2 L359.0,599.1 L360.0,599.0 L361.0,598.9 L362.0,598.8 L363.0,598.7 L364.0,598.6 L365.0,598.5 L366.0,598.4 L367.0,598.3 L368.0,598.2 L369.0,598.1 L370.0,598.0 L371.0,598.4 L372.0,598.7 L373.0,599.0 L374.0,599.4 L375.0,599.8 L376.0,600.1 L377.0,600.5 L378.0,600.8 L379.0,601.1 L380.0,601.5 L381.0,601.9 L382.0,602.2 L383.0,602.5 L384.0,602.9 L385.0,603.2 L386.0,603.6 L387.0,604.0 L388.0,604.3 L389.0,604.6 L390.0,605.0 L391.0,605.2 L392.0,605.5 L393.0,605.8 L394.0,606.0 L395.0,606.2 L396.0,606.5 L397.0,606.8 L398.0,607.0 L399.0,607.2 L400.0,607.5 L401.0,607.8 L402.0,608.0 L403.0,608.2 L404.0,608.5 L405.0,608.8 L406.0,609.0 L407.0,609.2 L408.0,609.5 L409.0,609.8 L410.0,610.0 L411.0,610.2 L412.0,610.4 L413.0,610.6 L414.0,610.8 L415.0,611.0 L416.0,611.2 L417.0,611.4 L418.0,611.6 L419.0,611.8 L420.0,612.0 L421.0,612.2 L422.0,612.4 L423.0,612.6 L424.0,612.8 L425.0,613.0 L426.0,613.2 L427.0,613.4 L428.0,613.6 L429.0,613.8 L430.0,614.0 L431.0,614.3 L432.0,614.6 L433.0,614.9 L434.0,615.2 L435.0,615.5 L436.0,615.8 L437.0,616.1 L438.0,616.4 L439.0,616.7 L440.0,617.0 L441.0,617.3 L442.0,617.6 L443.0,617.9 L444.0,618.2 L445.0,618.5 L446.0,618.8 L447.0,619.1 L448.0,619.4 L449.0,619.7 L450.0,620.0 L451.0,620.1 L452.0,620.2 L453.0,620.4 L454.0,620.5 L455.0,620.6 L456.0,620.8 L457.0,620.9 L458.0,621.0 L459.0,622.5 L460.0,624.0 L461.0,625.5 L462.0,627.0 L463.0,627.6 L464.0,628.2 L465.0,628.8 L466.0,629.5 L467.0,630.1 L468.0,630.7 L469.0,631.3 L470.0,631.9 L471.0,632.5 L472.0,633.2 L473.0,633.8 L474.0,634.4 L475.0,635.0 L476.0,635.3 L477.0,635.7 L478.0,636.0 L479.0,636.3 L480.0,636.7 L481.0,637.0 L482.0,637.3 L483.0,637.7 L484.0,638.0 L485.0,638.3 L486.0,638.7 L487.0,639.0 L488.0,639.3 L489.0,639.7 L490.0,640.0 L491.0,640.2 L492.0,640.5 L493.0,640.8 L494.0,641.0 L495.0,641.2 L496.0,641.5 L497.0,641.8 L498.0,642.0 L499.0,642.2 L500.0,642.5 L501.0,642.8 L502.0,643.0 L503.0,643.2 L504.0,643.5 L505.0,643.8 L506.0,644.0 L507.0,644.2 L508.0,644.5 L509.0,644.8 L510.0,645.0 L511.0,645.2 L512.0,645.5 L513.0,645.8 L514.0,646.0 L515.0,646.2 L516.0,646.5 L517.0,646.8 L518.0,647.0 L519.0,647.2 L520.0,647.5 L521.0,647.8 L522.0,648.0 L523.0,648.2 L524.0,648.5 L525.0,648.8 L526.0,649.0 L527.0,649.2 L528.0,649.5 L529.0,649.8 L530.0,650.0 L531.0,650.1 L532.0,650.2 L533.0,650.3 L534.0,650.4 L535.0,650.5 L536.0,650.6 L537.0,650.7 L538.0,650.8 L539.0,650.9 L540.0,651.0 L541.0,651.1 L542.0,651.2 L543.0,651.3 L544.0,651.4 L545.0,651.5 L546.0,651.6 L547.0,651.7 L548.0,651.8 L549.0,651.9 L550.0,652.0 L551.0,652.2 L552.0,652.5 L553.0,652.8 L554.0,653.0 L555.0,653.2 L556.0,653.5 L557.0,653.8 L558.0,654.0 L559.0,654.2 L560.0,654.5 L561.0,654.8 L562.0,655.0 L563.0,655.2 L564.0,655.5 L565.0,655.8 L566.0,656.0 L567.0,656.2 L568.0,656.5 L569.0,656.8 L570.0,657.0 L571.0,657.1 L572.0,657.2 L573.0,657.2 L574.0,657.3 L575.0,657.4 L576.0,657.5 L577.0,657.6 L578.0,657.7 L579.0,657.8 L580.0,657.8 L581.0,657.9 L582.0,658.0 L583.0,655.3 L584.0,652.7 L585.0,650.0 L586.0,648.0 L587.0,646.0 L588.0,644.0 L589.0,642.0 L590.0,640.0 L591.0,639.0 L592.0,638.0 L593.0,637.0 L594.0,636.0 L595.0,635.0 L596.0,635.1 L597.0,635.3 L598.0,635.4 L599.0,635.5 L600.0,635.7 L601.0,635.8 L602.0,635.9 L603.0,636.1 L604.0,636.2 L605.0,636.3 L606.0,636.5 L607.0,636.6 L608.0,636.7 L609.0,636.9 L610.0,637.0 L611.0,637.1 L612.0,637.2 L613.0,637.3 L614.0,637.4 L615.0,637.5 L616.0,637.6 L617.0,637.7 L618.0,637.8 L619.0,637.9 L620.0,638.0 L621.0,638.1 L622.0,638.2 L623.0,638.3 L624.0,638.4 L625.0,638.5 L626.0,638.6 L627.0,638.7 L628.0,638.8 L629.0,638.9 L630.0,639.0 L631.0,639.3 L632.0,639.6 L633.0,639.9 L634.0,640.2 L635.0,640.5 L636.0,640.8 L637.0,641.1 L638.0,641.4 L639.0,641.7 L640.0,642.0 L641.0,642.3 L642.0,642.6 L643.0,642.9 L644.0,643.2 L645.0,643.5 L646.0,643.8 L647.0,644.1 L648.0,644.4 L649.0,644.7 L650.0,645.0 L651.0,645.4 L652.0,645.8 L653.0,646.2 L654.0,646.6 L655.0,647.0 L656.0,647.4 L657.0,647.8 L658.0,648.2 L659.0,648.6 L660.0,649.0 L661.0,649.4 L662.0,649.8 L663.0,650.2 L664.0,650.6 L665.0,651.0 L666.0,651.4 L667.0,651.8 L668.0,652.2 L669.0,652.6 L670.0,653.0 L671.0,653.2 L672.0,653.5 L673.0,653.8 L674.0,654.0 L675.0,654.2 L676.0,654.5 L677.0,654.8 L678.0,655.0 L679.0,655.2 L680.0,655.5 L681.0,655.8 L682.0,656.0 L683.0,656.2 L684.0,656.5 L685.0,656.8 L686.0,657.0 L687.0,657.2 L688.0,657.5 L689.0,657.8 L690.0,658.0 L691.0,658.3 L692.0,658.7 L693.0,659.0 L694.0,659.3 L695.0,659.7 L696.0,660.0 L697.0,660.3 L698.0,660.7 L699.0,661.0 L700.0,661.3 L701.0,661.7 L702.0,662.0 L703.0,662.3 L704.0,662.7 L705.0,663.0 L706.0,664.1 L707.0,665.3 L708.0,666.4 L709.0,667.6 L710.0,668.7 L711.0,669.9 L712.0,671.0 L713.0,671.5 L714.0,672.1 L715.0,672.6 L716.0,673.2 L717.0,673.7 L718.0,674.2 L719.0,674.8 L720.0,675.3 L721.0,675.8 L722.0,676.4 L723.0,676.9 L724.0,677.5 L725.0,678.0 L726.0,678.5 L727.0,678.9 L728.0,679.4 L729.0,679.9 L730.0,680.3 L731.0,680.8 L732.0,681.3 L733.0,681.7 L734.0,682.2 L735.0,682.7 L736.0,683.1 L737.0,683.6 L738.0,684.1 L739.0,684.5 L740.0,685.0 L741.0,685.2 L742.0,685.5 L743.0,685.8 L744.0,686.0 L745.0,686.2 L746.0,686.5 L747.0,686.8 L748.0,687.0 L749.0,687.2 L750.0,687.5 L751.0,687.8 L752.0,688.0 L753.0,688.2 L754.0,688.5 L755.0,688.8 L756.0,689.0 L757.0,689.2 L758.0,689.5 L759.0,689.8 L760.0,690.0 L761.0,690.0 L762.0,690.0 L763.0,690.0 L764.0,690.0 L765.0,690.0 L766.0,690.0 L767.0,690.0 L768.0,690.0 L769.0,690.0 L770.0,690.0 L771.0,690.0 L772.0,690.0 L773.0,690.0 L774.0,690.0 L775.0,690.0 L776.0,690.0 L777.0,690.0 L778.0,690.0 L779.0,690.0 L780.0,690.0 L781.0,690.3 L782.0,690.6 L783.0,690.9 L784.0,691.2 L785.0,691.5 L786.0,691.8 L787.0,692.1 L788.0,692.4 L789.0,692.7 L790.0,693.0 L791.0,693.3 L792.0,693.6 L793.0,693.9 L794.0,694.2 L795.0,694.5 L796.0,694.8 L797.0,695.1 L798.0,695.4 L799.0,695.7 L800.0,696.0 L801.0,696.0 L802.0,696.0 L803.0,696.0 L804.0,696.0 L805.0,696.0 L806.0,696.0 L807.0,696.0 L808.0,696.0 L809.0,696.0 L810.0,696.0 L811.0,696.0 L812.0,696.0 L813.0,696.0 L814.0,696.0 L815.0,696.0 L816.0,696.0 L817.0,696.0 L818.0,696.0 L819.0,696.0 L820.0,696.0 L821.0,696.2 L822.0,696.4 L823.0,696.7 L824.0,696.9 L825.0,697.1 L826.0,697.3 L827.0,697.6 L828.0,697.8 L829.0,698.0 L830.0,693.7 L831.0,689.3 L832.0,685.0 L833.0,683.0 L834.0,681.0 L835.0,679.0 L836.0,677.0 L837.0,675.0 L838.0,674.8 L839.0,674.5 L840.0,674.2 L841.0,674.0 L842.0,673.8 L843.0,673.5 L844.0,673.2 L845.0,673.0 L846.0,672.7 L847.0,672.4 L848.0,672.1 L849.0,671.8 L850.0,671.5 L851.0,671.2 L852.0,670.9 L853.0,670.6 L854.0,670.3 L855.0,670.0 L856.0,670.2 L857.0,670.4 L858.0,670.6 L859.0,670.8 L860.0,671.0 L861.0,671.2 L862.0,671.4 L863.0,671.6 L864.0,671.8 L865.0,672.0 L866.0,672.2 L867.0,672.4 L868.0,672.6 L869.0,672.8 L870.0,673.0 L871.0,673.2 L872.0,673.4 L873.0,673.6 L874.0,673.8 L875.0,674.0 L876.0,674.2 L877.0,674.4 L878.0,674.6 L879.0,674.8 L880.0,675.0 L881.0,675.2 L882.0,675.4 L883.0,675.6 L884.0,675.8 L885.0,676.0 L886.0,676.2 L887.0,676.4 L888.0,676.6 L889.0,676.8 L890.0,677.0 L891.0,677.2 L892.0,677.5 L893.0,677.8 L894.0,678.0 L895.0,678.2 L896.0,678.5 L897.0,678.8 L898.0,679.0 L899.0,679.2 L900.0,679.5 L901.0,679.8 L902.0,680.0 L903.0,680.2 L904.0,680.5 L905.0,680.8 L906.0,681.0 L907.0,681.2 L908.0,681.5 L909.0,681.8 L910.0,682.0 L911.0,682.4 L912.0,682.8 L913.0,683.2 L914.0,683.6 L915.0,684.0 L916.0,684.4 L917.0,684.8 L918.0,685.2 L919.0,685.6 L920.0,686.0 L921.0,686.4 L922.0,686.8 L923.0,687.2 L924.0,687.6 L925.0,688.0 L926.0,688.4 L927.0,688.8 L928.0,689.2 L929.0,689.6 L930.0,690.0 L931.0,690.3 L932.0,690.6 L933.0,690.9 L934.0,691.2 L935.0,691.5 L936.0,691.8 L937.0,692.1 L938.0,692.4 L939.0,692.7 L940.0,693.0 L941.0,693.3 L942.0,693.6 L943.0,693.9 L944.0,694.2 L945.0,694.5 L946.0,694.8 L947.0,695.1 L948.0,695.4 L949.0,695.7 L950.0,696.0 L951.0,696.5 L952.0,697.0 L953.0,697.5 L954.0,698.0 L955.0,698.5 L956.0,699.0 L957.0,700.2 L958.0,701.4 L959.0,702.7 L960.0,703.9 L961.0,705.1 L962.0,706.3 L963.0,707.6 L964.0,708.8 L965.0,710.0 L966.0,710.7 L967.0,711.3 L968.0,712.0 L969.0,712.7 L970.0,713.3 L971.0,714.0 L972.0,714.7 L973.0,715.3 L974.0,716.0 L975.0,716.7 L976.0,717.3 L977.0,718.0 L978.0,718.7 L979.0,719.3 L980.0,720.0 L981.0,720.2 L982.0,720.5 L983.0,720.8 L984.0,721.0 L985.0,721.2 L986.0,721.5 L987.0,721.8 L988.0,722.0 L989.0,722.2 L990.0,722.5 L991.0,722.8 L992.0,723.0 L993.0,723.2 L994.0,723.5 L995.0,723.8 L996.0,724.0 L997.0,724.2 L998.0,724.5 L999.0,724.8 L1000.0,725.0 L1001.0,725.2 L1002.0,725.5 L1003.0,725.8 L1004.0,726.0 L1005.0,726.2 L1006.0,726.5 L1007.0,726.8 L1008.0,727.0 L1009.0,727.2 L1010.0,727.5 L1011.0,727.8 L1012.0,728.0 L1013.0,728.2 L1014.0,728.5 L1015.0,728.8 L1016.0,729.0 L1017.0,729.2 L1018.0,729.5 L1019.0,729.8 L1020.0,730.0 L1021.0,730.0 L1022.0,730.1 L1023.0,730.1 L1024.0,730.2 L1025.0,730.2 L1026.0,730.3 L1027.0,730.4 L1028.0,730.4 L1029.0,730.5 L1030.0,730.5 L1031.0,730.5 L1032.0,730.6 L1033.0,730.6 L1034.0,730.7 L1035.0,730.8 L1036.0,730.8 L1037.0,730.9 L1038.0,730.9 L1039.0,731.0 L1040.0,731.0 L1041.0,731.1 L1042.0,731.2 L1043.0,731.3 L1044.0,731.4 L1045.0,731.5 L1046.0,731.6 L1047.0,731.7 L1048.0,731.8 L1049.0,731.9 L1050.0,732.0 L1051.0,732.1 L1052.0,732.2 L1053.0,732.3 L1054.0,732.4 L1055.0,732.5 L1056.0,732.6 L1057.0,732.7 L1058.0,732.8 L1059.0,732.9 L1060.0,733.0 L1061.0,733.1 L1062.0,733.1 L1063.0,733.2 L1064.0,733.2 L1065.0,733.3 L1066.0,733.3 L1067.0,733.4 L1068.0,733.4 L1069.0,733.5 L1070.0,733.6 L1071.0,733.6 L1072.0,733.7 L1073.0,733.7 L1074.0,733.8 L1075.0,733.8 L1076.0,733.9 L1077.0,733.9 L1078.0,734.0 L1079.0,731.0 L1080.0,728.0 L1081.0,725.0 L1082.0,722.0 L1083.0,720.6 L1084.0,719.2 L1085.0,717.9 L1086.0,716.5 L1087.0,715.1 L1088.0,713.8 L1089.0,712.4 L1090.0,711.0 L1091.0,710.9 L1092.0,710.8 L1093.0,710.7 L1094.0,710.6 L1095.0,710.5 L1096.0,710.4 L1097.0,710.3 L1098.0,710.2 L1099.0,710.1 L1100.0,710.0 L1101.0,709.9 L1102.0,709.8 L1103.0,709.7 L1104.0,709.6 L1105.0,709.5 L1106.0,709.4 L1107.0,709.3 L1108.0,709.2 L1109.0,709.1 L1110.0,709.0 L1111.0,709.2 L1112.0,709.4 L1113.0,709.6 L1114.0,709.8 L1115.0,710.0 L1116.0,710.2 L1117.0,710.4 L1118.0,710.6 L1119.0,710.8 L1120.0,711.0 L1121.0,711.2 L1122.0,711.4 L1123.0,711.6 L1124.0,711.8 L1125.0,712.0 L1126.0,712.2 L1127.0,712.4 L1128.0,712.6 L1129.0,712.8 L1130.0,713.0 L1131.0,713.2 L1132.0,713.5 L1133.0,713.8 L1134.0,714.0 L1135.0,714.2 L1136.0,714.5 L1137.0,714.8 L1138.0,715.0 L1139.0,715.2 L1140.0,715.5 L1141.0,715.8 L1142.0,716.0 L1143.0,716.2 L1144.0,716.5 L1145.0,716.8 L1146.0,717.0 L1147.0,717.2 L1148.0,717.5 L1149.0,717.8 L1150.0,718.0 L1151.0,718.2 L1152.0,718.5 L1153.0,718.8 L1154.0,719.0 L1155.0,719.2 L1156.0,719.5 L1157.0,719.8 L1158.0,720.0 L1159.0,720.2 L1160.0,720.5 L1161.0,720.8 L1162.0,721.0 L1163.0,721.2 L1164.0,721.5 L1165.0,721.8 L1166.0,722.0 L1167.0,722.2 L1168.0,722.5 L1169.0,722.8 L1170.0,723.0 L1171.0,723.1 L1172.0,723.3 L1173.0,723.5 L1174.0,723.6 L1175.0,723.8 L1176.0,723.9 L1177.0,724.0 L1178.0,724.2 L1179.0,724.4 L1180.0,724.5 L1181.0,724.6 L1182.0,724.8 L1183.0,725.0 L1184.0,725.1 L1185.0,725.2 L1186.0,725.4 L1187.0,725.5 L1188.0,725.7 L1189.0,725.9 L1190.0,726.0 L1191.0,726.4 L1192.0,726.7 L1193.0,727.1 L1194.0,727.4 L1195.0,727.8 L1196.0,728.1 L1197.0,728.5 L1198.0,728.9 L1199.0,729.2 L1200.0,729.6 L1201.0,729.9 L1202.0,730.3 L1203.0,730.6 L1204.0,731.0 L1205.0,732.3 L1206.0,733.5 L1207.0,734.8 L1208.0,736.1 L1209.0,737.4 L1210.0,738.6 L1211.0,739.9 L1212.0,741.2 L1213.0,742.5 L1214.0,743.7 L1215.0,745.0 L1216.0,745.5 L1217.0,746.1 L1218.0,746.6 L1219.0,747.1 L1220.0,747.7 L1221.0,748.2 L1222.0,748.7 L1223.0,749.3 L1224.0,749.8 L1225.0,750.3 L1226.0,750.9 L1227.0,751.4 L1228.0,751.9 L1229.0,752.5 L1230.0,753.0 L1231.0,753.2 L1232.0,753.5 L1233.0,753.8 L1234.0,754.0 L1235.0,754.2 L1236.0,754.5 L1237.0,754.8 L1238.0,755.0 L1239.0,755.2 L1240.0,755.5 L1241.0,755.8 L1242.0,756.0 L1243.0,756.2 L1244.0,756.5 L1245.0,756.8 L1246.0,757.0 L1247.0,757.2 L1248.0,757.5 L1249.0,757.8 L1250.0,758.0 L1251.0,758.0 L1252.0,758.0 L1253.0,758.0 L1254.0,758.0 L1255.0,758.0 L1256.0,758.0 L1257.0,758.0 L1258.0,758.0 L1259.0,758.0 L1260.0,758.0 L1261.0,758.0 L1262.0,758.0 L1263.0,758.0 L1264.0,758.0 L1265.0,758.0 L1266.0,758.0 L1267.0,758.0 L1268.0,758.0 L1269.0,758.0 L1270.0,758.0 L1271.0,758.0 L1272.0,758.1 L1273.0,758.1 L1274.0,758.2 L1275.0,758.2 L1276.0,758.3 L1277.0,758.4 L1278.0,758.4 L1279.0,758.5 L1280.0,758.5 L1281.0,758.5 L1282.0,758.6 L1283.0,758.6 L1284.0,758.7 L1285.0,758.8 L1286.0,758.8 L1287.0,758.9 L1288.0,758.9 L1289.0,759.0 L1290.0,759.0 L1291.0,759.0 L1292.0,759.0 L1293.0,759.0 L1294.0,759.0 L1295.0,759.0 L1296.0,759.0 L1297.0,759.0 L1298.0,759.0 L1299.0,759.0 L1300.0,759.0 L1301.0,759.0 L1302.0,759.0 L1303.0,759.0 L1304.0,759.0 L1305.0,759.0 L1306.0,759.0 L1307.0,759.0 L1308.0,759.0 L1309.0,759.0 L1310.0,759.0 L1311.0,759.1 L1312.0,759.1 L1313.0,759.2 L1314.0,759.2 L1315.0,759.3 L1316.0,759.4 L1317.0,759.4 L1318.0,759.5 L1319.0,759.5 L1320.0,759.6 L1321.0,759.6 L1322.0,759.7 L1323.0,759.8 L1324.0,759.8 L1325.0,759.9 L1326.0,759.9 L1327.0,760.0 L1328.0,756.8 L1329.0,753.5 L1330.0,750.2 L1331.0,747.0 L1332.0,746.3 L1333.0,745.7 L1334.0,745.0 L1335.0,744.3 L1336.0,743.7 L1337.0,743.0 L1338.0,742.3 L1339.0,741.7 L1340.0,741.0 L1341.0,741.1 L1342.0,741.3 L1343.0,741.5 L1344.0,741.6 L1345.0,741.8 L1346.0,741.9 L1347.0,742.0 L1348.0,742.2 L1349.0,742.4 L1350.0,742.5 L1351.0,742.6 L1352.0,742.8 L1353.0,743.0 L1354.0,743.1 L1355.0,743.2 L1356.0,743.4 L1357.0,743.5 L1358.0,743.7 L1359.0,743.9 L1360.0,744.0 L1361.0,744.2 L1362.0,744.4 L1363.0,744.6 L1364.0,744.8 L1365.0,745.0 L1366.0,745.2 L1367.0,745.4 L1368.0,745.6 L1369.0,745.8 L1370.0,746.0 L1371.0,746.2 L1372.0,746.4 L1373.0,746.6 L1374.0,746.8 L1375.0,747.0 L1376.0,747.2 L1377.0,747.4 L1378.0,747.6 L1379.0,747.8 L1380.0,748.0 L1381.0,748.1 L1382.0,748.2 L1383.0,748.3 L1384.0,748.4 L1385.0,748.5 L1386.0,748.6 L1387.0,748.7 L1388.0,748.8 L1389.0,748.9 L1390.0,749.0 L1391.0,749.1 L1392.0,749.2 L1393.0,749.3 L1394.0,749.4 L1395.0,749.5 L1396.0,749.6 L1397.0,749.7 L1398.0,749.8 L1399.0,749.9 L1400.0,750.0 L1401.0,750.0 L1402.0,750.1 L1403.0,750.1 L1404.0,750.2 L1405.0,750.2 L1406.0,750.3 L1407.0,750.4 L1408.0,750.4 L1409.0,750.5 L1410.0,750.5 L1411.0,750.5 L1412.0,750.6 L1413.0,750.6 L1414.0,750.7 L1415.0,750.8 L1416.0,750.8 L1417.0,750.9 L1418.0,750.9 L1419.0,751.0 L1420.0,751.0 L1421.0,751.1 L1422.0,751.2 L1423.0,751.3 L1424.0,751.4 L1425.0,751.5 L1426.0,751.6 L1427.0,751.7 L1428.0,751.8 L1429.0,751.9 L1430.0,752.0 L1431.0,752.1 L1432.0,752.2 L1433.0,752.3 L1434.0,752.4 L1435.0,752.5 L1436.0,752.6 L1437.0,752.7 L1438.0,752.8 L1439.0,752.9 L1440.0,753.0 L1441.0,753.1 L1442.0,753.2 L1443.0,753.3 L1444.0,753.4 L1445.0,753.5 L1446.0,753.6 L1447.0,753.7 L1448.0,753.8 L1449.0,753.9 L1450.0,754.0 L1451.0,754.1 L1452.0,754.2 L1453.0,754.3 L1454.0,754.4 L1455.0,754.5 L1456.0,754.6 L1457.0,754.7 L1458.0,754.8 L1459.0,754.9 L1460.0,755.0 L1461.0,755.1 L1462.0,755.3 L1463.0,755.5 L1464.0,755.6 L1465.0,755.8 L1466.0,755.9 L1467.0,756.0 L1468.0,756.2 L1469.0,756.4 L1470.0,756.5 L1471.0,756.6 L1472.0,756.8 L1473.0,757.0 L1474.0,757.1 L1475.0,757.2 L1476.0,757.4 L1477.0,757.5 L1478.0,757.7 L1479.0,757.9 L1480.0,758.0 L1481.0,758.8 L1482.0,759.6 L1483.0,760.4 L1484.0,761.2 L1485.0,762.0 L1486.0,762.8 L1487.0,763.6 L1488.0,764.4 L1489.0,765.2 L1490.0,766.0 L1491.0,766.5 L1492.0,767.0 L1493.0,767.5 L1494.0,768.0 L1495.0,768.5 L1496.0,769.0 L1497.0,769.5 L1498.0,770.0 L1499.0,770.5 L1500.0,771.0 L1501.0,771.1 L1502.0,771.3 L1503.0,771.5 L1504.0,771.6 L1505.0,771.8 L1506.0,771.9 L1507.0,772.0 L1508.0,772.2 L1509.0,772.4 L1510.0,772.5 L1511.0,772.6 L1512.0,772.8 L1513.0,773.0 L1514.0,773.1 L1515.0,773.2 L1516.0,773.4 L1517.0,773.5 L1518.0,773.7 L1519.0,773.9 L1520.0,774.0 L1521.0,774.1 L1522.0,774.2 L1523.0,774.3 L1524.0,774.4 L1525.0,774.5 L1526.0,774.6 L1527.0,774.7 L1528.0,774.8 L1529.0,774.9 L1530.0,775.0 L1531.0,775.1 L1532.0,775.2 L1533.0,775.3 L1534.0,775.4 L1535.0,775.5 L1536.0,775.6 L1537.0,775.7 L1538.0,775.8 L1539.0,775.9 L1540.0,776.0 L1541.0,776.1 L1542.0,776.3 L1543.0,776.4 L1544.0,776.5 L1545.0,776.7 L1546.0,776.8 L1547.0,776.9 L1548.0,777.1 L1549.0,777.2 L1550.0,777.3 L1551.0,777.5 L1552.0,777.6 L1553.0,777.7 L1554.0,777.9 L1555.0,778.0 L1556.0,777.8 L1557.0,777.7 L1558.0,777.5 L1559.0,777.3 L1560.0,777.2 L1561.0,777.0 L1562.0,776.8 L1563.0,776.7 L1564.0,776.5 L1565.0,776.3 L1566.0,776.2 L1567.0,776.0 L1568.0,776.2 L1569.0,776.4 L1570.0,776.6 L1571.0,776.8 L1572.0,777.0 L1573.0,777.2 L1574.0,777.4 L1575.0,777.6 L1576.0,777.8 L1577.0,778.0" fill="none" stroke="#ff0000" stroke-width="6" stroke-linejoin="round"/>
<path d="M210.0,263.6 L214.5,264.0 L214.5,260.5 L219.0,261.0 L219.0,261.8 L223.5,262.3 L223.5,262.3 L228.0,262.7 L228.0,263.3 L232.5,264.0 L232.5,259.1 L237.0,260.0 L237.0,261.7 L241.5,262.6 L241.5,262.4 L246.0,263.3 L246.0,257.6 L250.5,258.5 L250.5,264.7 L255.0,265.8 L255.0,268.2 L259.5,269.3 L259.5,271.2 L264.0,272.3 L264.0,270.4 L268.5,271.5 L268.5,265.0 L273.0,266.2 L273.0,270.1 L277.5,271.2 L277.5,271.5 L282.0,272.6 L282.0,274.1 L286.5,275.2 L286.5,276.1 L291.0,277.1 L291.0,275.3 L295.5,276.0 L295.5,280.1 L300.0,280.8 L300.0,279.7 L304.5,280.4 L304.5,278.0 L309.0,278.7 L309.0,282.6 L313.5,283.4 L313.5,281.6 L318.0,282.5 L318.0,281.2 L322.5,282.1 L322.5,282.8 L327.0,284.3 L327.0,282.5 L331.5,284.7 L331.5,285.0 L336.0,271.7 L336.0,269.0 L340.5,239.3 L340.5,242.1 L345.0,237.6 L345.0,233.5 L349.5,231.3 L349.5,239.1 L354.0,237.9 L354.0,238.4 L358.5,237.4 L358.5,235.9 L363.0,235.2 L363.0,236.9 L367.5,236.3 L367.5,238.5 L372.0,237.9 L372.0,229.7 L376.5,229.3 L376.5,232.4 L381.0,232.4 L381.0,231.4 L385.5,231.4 L385.5,230.8 L390.0,230.8 L390.0,230.3 L394.5,230.3 L394.5,235.7 L399.0,235.7 L399.0,232.6 L403.5,232.8 L403.5,233.0 L408.0,233.2 L408.0,235.8 L412.5,236.0 L412.5,237.9 L417.0,238.1 L417.0,235.2 L421.5,235.6 L421.5,235.2 L426.0,235.9 L426.0,233.6 L430.5,234.3 L430.5,236.3 L435.0,236.9 L435.0,237.0 L439.5,237.6 L439.5,239.7 L444.0,241.7 L444.0,239.4 L448.5,241.5 L448.5,241.1 L453.0,243.2 L453.0,243.9 L457.5,248.0 L457.5,246.3 L462.0,256.2 L462.0,252.7 L466.5,261.3 L466.5,259.4 L471.0,264.3 L471.0,270.0 L475.5,272.7 L475.5,273.4 L480.0,276.1 L480.0,277.5 L484.5,279.7 L484.5,281.0 L489.0,283.3 L489.0,282.1 L493.5,284.0 L493.5,282.7 L498.0,284.5 L498.0,285.4 L502.5,287.2 L502.5,286.7 L507.0,288.5 L507.0,292.5 L511.5,294.3 L511.5,291.2 L516.0,293.0 L516.0,294.0 L520.5,295.7 L520.5,294.3 L525.0,295.8 L525.0,296.3 L529.5,297.8 L529.5,299.6 L534.0,301.1 L534.0,299.4 L538.5,300.7 L538.5,301.4 L543.0,302.6 L543.0,299.8 L547.5,301.0 L547.5,300.7 L552.0,301.7 L552.0,303.5 L556.5,304.1 L556.5,301.3 L561.0,301.9 L561.0,305.1 L565.5,305.8 L565.5,304.0 L570.0,304.7 L570.0,305.7 L574.5,306.4 L574.5,310.5 L579.0,311.5 L579.0,312.9 L583.5,301.7 L583.5,294.2 L588.0,246.3 L588.0,245.9 L592.5,228.0 L592.5,232.4 L597.0,221.1 L597.0,219.5 L601.5,210.8 L601.5,209.7 L606.0,205.6 L606.0,209.3 L610.5,206.9 L610.5,206.5 L615.0,206.0 L615.0,204.5 L619.5,204.0 L619.5,202.6 L624.0,202.2 L624.0,203.2 L628.5,202.8 L628.5,200.0 L633.0,200.1 L633.0,198.1 L637.5,198.5 L637.5,200.2 L642.0,200.7 L642.0,202.0 L646.5,202.5 L646.5,204.2 L651.0,204.8 L651.0,200.2 L655.5,201.3 L655.5,204.4 L660.0,205.5 L660.0,203.6 L664.5,204.7 L664.5,208.6 L669.0,209.7 L669.0,209.6 L673.5,211.3 L673.5,210.6 L678.0,212.4 L678.0,210.7 L682.5,212.5 L682.5,218.4 L687.0,220.2 L687.0,217.3 L691.5,219.0 L691.5,218.6 L696.0,220.1 L696.0,215.0 L700.5,216.5 L700.5,218.9 L705.0,220.4 L705.0,223.9 L709.5,232.4 L709.5,229.4 L714.0,249.4 L714.0,246.0 L718.5,261.7 L718.5,268.1 L723.0,276.3 L723.0,275.3 L727.5,280.2 L727.5,278.0 L732.0,280.8 L732.0,282.9 L736.5,285.2 L736.5,286.4 L741.0,287.9 L741.0,286.1 L745.5,287.6 L745.5,286.9 L750.0,288.4 L750.0,289.1 L754.5,291.6 L754.5,289.9 L759.0,292.4 L759.0,294.6 L763.5,297.1 L763.5,293.1 L768.0,295.6 L768.0,295.3 L772.5,297.4 L772.5,295.0 L777.0,296.8 L777.0,301.1 L781.5,302.9 L781.5,302.7 L786.0,304.3 L786.0,302.6 L790.5,303.8 L790.5,302.8 L795.0,304.0 L795.0,304.9 L799.5,306.1 L799.5,306.9 L804.0,307.8 L804.0,306.0 L808.5,306.9 L808.5,309.1 L813.0,310.0 L813.0,308.8 L817.5,309.7 L817.5,312.4 L822.0,314.0 L822.0,306.8 L826.5,309.3 L826.5,313.1 L831.0,303.1 L831.0,307.3 L835.5,239.1 L835.5,237.3 L840.0,198.1 L840.0,198.2 L844.5,173.2 L844.5,171.7 L849.0,159.0 L849.0,158.1 L853.5,149.9 L853.5,150.1 L858.0,145.0 L858.0,147.3 L862.5,143.2 L862.5,146.4 L867.0,144.0 L867.0,141.4 L871.5,141.1 L871.5,141.3 L876.0,141.0 L876.0,142.9 L880.5,142.9 L880.5,140.5 L885.0,142.3 L885.0,144.4 L889.5,146.2 L889.5,145.4 L894.0,147.2 L894.0,148.3 L898.5,150.1 L898.5,149.3 L903.0,150.5 L903.0,149.9 L907.5,150.8 L907.5,153.1 L912.0,154.0 L912.0,154.7 L916.5,155.6 L916.5,151.8 L921.0,153.0 L921.0,153.9 L925.5,156.2 L925.5,155.3 L930.0,157.6 L930.0,158.2 L934.5,160.4 L934.5,159.2 L939.0,161.5 L939.0,158.4 L943.5,160.2 L943.5,162.3 L948.0,163.9 L948.0,166.4 L952.5,168.0 L952.5,166.7 L957.0,175.2 L957.0,178.5 L961.5,211.0 L961.5,212.3 L966.0,239.8 L966.0,239.3 L970.5,251.1 L970.5,252.0 L975.0,259.2 L975.0,259.3 L979.5,265.2 L979.5,260.5 L984.0,266.3 L984.0,265.1 L988.5,270.6 L988.5,269.5 L993.0,273.1 L993.0,274.2 L997.5,276.9 L997.5,280.9 L1002.0,283.6 L1002.0,283.0 L1006.5,285.7 L1006.5,286.9 L1011.0,289.5 L1011.0,285.3 L1015.5,287.5 L1015.5,290.9 L1020.0,293.2 L1020.0,291.6 L1024.5,293.9 L1024.5,294.7 L1029.0,297.0 L1029.0,296.0 L1033.5,297.2 L1033.5,297.8 L1038.0,298.7 L1038.0,296.6 L1042.5,297.5 L1042.5,299.3 L1047.0,300.2 L1047.0,300.4 L1051.5,301.7 L1051.5,300.0 L1056.0,302.0 L1056.0,305.7 L1060.5,307.7 L1060.5,305.4 L1065.0,307.4 L1065.0,304.4 L1069.5,306.4 L1069.5,306.5 L1074.0,310.3 L1074.0,306.7 L1078.5,306.5 L1078.5,311.0 L1083.0,244.7 L1083.0,246.7 L1087.5,189.4 L1087.5,189.4 L1092.0,162.0 L1092.0,164.1 L1096.5,151.5 L1096.5,152.3 L1101.0,145.3 L1101.0,142.3 L1105.5,136.4 L1105.5,129.8 L1110.0,127.4 L1110.0,131.8 L1114.5,129.4 L1114.5,129.2 L1119.0,126.8 L1119.0,126.7 L1123.5,125.3 L1123.5,127.8 L1128.0,126.6 L1128.0,122.8 L1132.5,121.6 L1132.5,121.9 L1137.0,121.5 L1137.0,122.2 L1141.5,122.8 L1141.5,124.7 L1146.0,125.3 L1146.0,123.3 L1150.5,123.9 L1150.5,124.4 L1155.0,125.6 L1155.0,127.0 L1159.5,128.1 L1159.5,126.8 L1164.0,127.9 L1164.0,126.1 L1168.5,127.3 L1168.5,125.3 L1173.0,126.6 L1173.0,128.0 L1177.5,129.4 L1177.5,129.1 L1182.0,130.5 L1182.0,128.3 L1186.5,129.6 L1186.5,131.4 L1191.0,132.9 L1191.0,133.1 L1195.5,134.9 L1195.5,135.4 L1200.0,137.2 L1200.0,139.2 L1204.5,141.0 L1204.5,143.5 L1209.0,176.7 L1209.0,176.3 L1213.5,200.7 L1213.5,202.4 L1218.0,220.1 L1218.0,218.7 L1222.5,231.2 L1222.5,230.8 L1227.0,238.9 L1227.0,240.2 L1231.5,247.0 L1231.5,248.2 L1236.0,252.4 L1236.0,248.9 L1240.5,253.1 L1240.5,248.9 L1245.0,253.1 L1245.0,253.3 L1249.5,256.9 L1249.5,257.8 L1254.0,261.4 L1254.0,263.7 L1258.5,267.3 L1258.5,270.8 L1263.0,273.8 L1263.0,271.0 L1267.5,273.7 L1267.5,275.5 L1272.0,278.2 L1272.0,275.0 L1276.5,277.7 L1276.5,275.7 L1281.0,278.0 L1281.0,276.4 L1285.5,277.3 L1285.5,280.9 L1290.0,281.8 L1290.0,280.9 L1294.5,281.8 L1294.5,281.8 L1299.0,282.7 L1299.0,285.1 L1303.5,286.5 L1303.5,288.3 L1308.0,289.9 L1308.0,292.3 L1312.5,293.9 L1312.5,291.3 L1317.0,292.9 L1317.0,293.4 L1321.5,295.2 L1321.5,294.1 L1326.0,296.3 L1326.0,296.1 L1330.5,232.3 L1330.5,230.7 L1335.0,172.7 L1335.0,172.3 L1339.5,149.0 L1339.5,150.6 L1344.0,145.4 L1344.0,143.4 L1348.5,139.8 L1348.5,137.8 L1353.0,136.0 L1353.0,137.9 L1357.5,137.0 L1357.5,136.4 L1362.0,135.5 L1362.0,137.2 L1366.5,137.1 L1366.5,138.4 L1371.0,139.9 L1371.0,140.4 L1375.5,141.9 L1375.5,142.8 L1380.0,144.3 L1380.0,146.8 L1384.5,148.0 L1384.5,146.3 L1389.0,147.4 L1389.0,144.8 L1393.5,145.9 L1393.5,143.6 L1398.0,144.7 L1398.0,144.9 L1402.5,146.2 L1402.5,144.7 L1407.0,146.0 L1407.0,150.9 L1411.5,152.3 L1411.5,150.2 L1416.0,151.5 L1416.0,150.5 L1420.5,151.9 L1420.5,151.6 L1425.0,153.2 L1425.0,156.8 L1429.5,158.4 L1429.5,158.0 L1434.0,159.6 L1434.0,160.8 L1438.5,162.4 L1438.5,159.9 L1443.0,161.0 L1443.0,160.3 L1447.5,161.2 L1447.5,162.1 L1452.0,163.0 L1452.0,168.7 L1456.5,169.6 L1456.5,165.7 L1461.0,166.6 L1461.0,167.0 L1465.5,168.2 L1465.5,161.2 L1470.0,162.3 L1470.0,168.3 L1474.5,169.4 L1474.5,167.7 L1479.0,168.9 L1479.0,172.4 L1483.5,178.9 L1483.5,178.2 L1488.0,213.0 L1488.0,211.8 L1492.5,224.8 L1492.5,223.4 L1497.0,228.8 L1497.0,228.8 L1501.5,234.4 L1501.5,236.4 L1506.0,242.4 L1506.0,235.6 L1510.5,241.6 L1510.5,248.6 L1515.0,254.6 L1515.0,247.3 L1519.5,251.1 L1519.5,257.9 L1524.0,261.7 L1524.0,259.0 L1528.5,262.8 L1528.5,261.9 L1533.0,265.7 L1533.0,267.2 L1537.5,270.4 L1537.5,267.3 L1542.0,270.0 L1542.0,268.6 L1546.5,271.3 L1546.5,276.4 L1551.0,279.1 L1551.0,282.8 L1555.5,285.3 L1555.5,286.1 L1560.0,287.7 L1560.0,288.2 L1564.5,289.8 L1564.5,292.3 L1569.0,293.9 L1569.0,291.0 L1573.5,292.4 L1573.5,291.9 L1577.0,292.6 L1577.0,310.2 L1573.5,309.5 L1573.5,308.7 L1569.0,307.3 L1569.0,303.5 L1564.5,301.9 L1564.5,307.5 L1560.0,305.9 L1560.0,302.6 L1555.5,301.0 L1555.5,302.2 L1551.0,299.6 L1551.0,293.6 L1546.5,290.9 L1546.5,293.6 L1542.0,290.9 L1542.0,289.2 L1537.5,286.5 L1537.5,288.3 L1533.0,285.1 L1533.0,287.4 L1528.5,283.6 L1528.5,284.6 L1524.0,280.7 L1524.0,274.7 L1519.5,270.8 L1519.5,270.0 L1515.0,266.1 L1515.0,272.8 L1510.5,266.8 L1510.5,264.5 L1506.0,258.5 L1506.0,262.7 L1501.5,256.7 L1501.5,254.3 L1497.0,248.7 L1497.0,251.2 L1492.5,245.8 L1492.5,243.2 L1488.0,230.2 L1488.0,230.7 L1483.5,196.0 L1483.5,191.5 L1479.0,185.0 L1479.0,186.7 L1474.5,185.6 L1474.5,185.9 L1470.0,184.8 L1470.0,190.3 L1465.5,189.2 L1465.5,182.0 L1461.0,180.9 L1461.0,185.0 L1456.5,184.1 L1456.5,183.5 L1452.0,182.6 L1452.0,184.5 L1447.5,183.6 L1447.5,182.1 L1443.0,181.2 L1443.0,181.1 L1438.5,179.9 L1438.5,175.4 L1434.0,173.8 L1434.0,173.9 L1429.5,172.3 L1429.5,176.5 L1425.0,175.0 L1425.0,174.9 L1420.5,173.3 L1420.5,171.5 L1416.0,170.1 L1416.0,171.4 L1411.5,170.1 L1411.5,169.9 L1407.0,168.5 L1407.0,168.6 L1402.5,167.2 L1402.5,163.6 L1398.0,162.3 L1398.0,163.7 L1393.5,162.6 L1393.5,167.0 L1389.0,165.9 L1389.0,163.9 L1384.5,162.8 L1384.5,159.9 L1380.0,158.8 L1380.0,160.1 L1375.5,158.6 L1375.5,158.5 L1371.0,157.0 L1371.0,162.3 L1366.5,160.8 L1366.5,153.0 L1362.0,153.1 L1362.0,150.9 L1357.5,151.8 L1357.5,157.8 L1353.0,158.7 L1353.0,158.0 L1348.5,159.8 L1348.5,157.9 L1344.0,161.5 L1344.0,162.8 L1339.5,168.0 L1339.5,166.4 L1335.0,189.8 L1335.0,188.3 L1330.5,246.2 L1330.5,249.1 L1326.0,312.8 L1326.0,313.2 L1321.5,310.9 L1321.5,312.9 L1317.0,311.1 L1317.0,309.6 L1312.5,308.0 L1312.5,307.2 L1308.0,305.6 L1308.0,306.8 L1303.5,305.2 L1303.5,304.4 L1299.0,302.9 L1299.0,300.0 L1294.5,299.1 L1294.5,297.6 L1290.0,296.7 L1290.0,306.0 L1285.5,305.1 L1285.5,302.0 L1281.0,301.1 L1281.0,302.6 L1276.5,300.3 L1276.5,299.6 L1272.0,296.9 L1272.0,294.1 L1267.5,291.4 L1267.5,292.4 L1263.0,289.7 L1263.0,286.9 L1258.5,283.9 L1258.5,287.6 L1254.0,284.0 L1254.0,282.6 L1249.5,279.0 L1249.5,280.9 L1245.0,277.3 L1245.0,271.6 L1240.5,267.4 L1240.5,272.6 L1236.0,268.4 L1236.0,266.4 L1231.5,262.2 L1231.5,261.6 L1227.0,254.8 L1227.0,253.0 L1222.5,244.9 L1222.5,246.8 L1218.0,234.3 L1218.0,237.4 L1213.5,219.8 L1213.5,221.9 L1209.0,197.5 L1209.0,197.2 L1204.5,164.0 L1204.5,158.1 L1200.0,156.3 L1200.0,158.3 L1195.5,156.5 L1195.5,152.8 L1191.0,151.0 L1191.0,154.0 L1186.5,152.6 L1186.5,148.1 L1182.0,146.8 L1182.0,150.7 L1177.5,149.4 L1177.5,150.0 L1173.0,148.7 L1173.0,149.9 L1168.5,148.6 L1168.5,150.4 L1164.0,149.3 L1164.0,152.4 L1159.5,151.2 L1159.5,151.4 L1155.0,150.3 L1155.0,145.3 L1150.5,144.2 L1150.5,144.7 L1146.0,144.0 L1146.0,144.0 L1141.5,143.4 L1141.5,137.4 L1137.0,136.8 L1137.0,138.4 L1132.5,138.8 L1132.5,139.2 L1128.0,140.4 L1128.0,141.2 L1123.5,142.4 L1123.5,148.7 L1119.0,150.2 L1119.0,147.3 L1114.5,149.7 L1114.5,150.3 L1110.0,152.7 L1110.0,151.8 L1105.5,154.2 L1105.5,151.0 L1101.0,156.8 L1101.0,158.5 L1096.5,165.5 L1096.5,164.5 L1092.0,177.1 L1092.0,176.7 L1087.5,204.1 L1087.5,207.2 L1083.0,264.6 L1083.0,261.1 L1078.5,327.4 L1078.5,332.3 L1074.0,332.6 L1074.0,333.0 L1069.5,329.3 L1069.5,328.1 L1065.0,326.1 L1065.0,327.0 L1060.5,325.0 L1060.5,323.2 L1056.0,321.2 L1056.0,319.2 L1051.5,317.2 L1051.5,315.4 L1047.0,314.1 L1047.0,313.2 L1042.5,312.3 L1042.5,312.9 L1038.0,312.0 L1038.0,311.5 L1033.5,310.6 L1033.5,315.8 L1029.0,314.6 L1029.0,310.1 L1024.5,307.8 L1024.5,311.3 L1020.0,309.1 L1020.0,316.2 L1015.5,314.0 L1015.5,313.1 L1011.0,310.9 L1011.0,303.7 L1006.5,301.1 L1006.5,298.6 L1002.0,295.9 L1002.0,299.6 L997.5,296.9 L997.5,294.1 L993.0,291.4 L993.0,291.5 L988.5,287.9 L988.5,290.5 L984.0,285.0 L984.0,283.3 L979.5,277.5 L979.5,277.4 L975.0,271.6 L975.0,271.7 L970.5,264.5 L970.5,263.8 L966.0,252.0 L966.0,254.5 L961.5,227.0 L961.5,225.9 L957.0,193.4 L957.0,191.5 L952.5,183.0 L952.5,187.3 L948.0,185.7 L948.0,185.7 L943.5,184.1 L943.5,185.7 L939.0,184.0 L939.0,182.2 L934.5,179.9 L934.5,177.5 L930.0,175.2 L930.0,174.0 L925.5,171.8 L925.5,172.8 L921.0,170.6 L921.0,173.1 L916.5,171.9 L916.5,173.0 L912.0,172.1 L912.0,170.1 L907.5,169.2 L907.5,170.6 L903.0,169.7 L903.0,170.3 L898.5,169.1 L898.5,170.1 L894.0,168.3 L894.0,169.1 L889.5,167.3 L889.5,164.9 L885.0,163.1 L885.0,159.8 L880.5,158.0 L880.5,158.2 L876.0,158.2 L876.0,157.3 L871.5,157.6 L871.5,157.5 L867.0,157.8 L867.0,163.2 L862.5,165.6 L862.5,158.3 L858.0,162.3 L858.0,165.4 L853.5,170.5 L853.5,170.6 L849.0,178.8 L849.0,182.3 L844.5,195.0 L844.5,193.4 L840.0,218.4 L840.0,217.0 L835.5,256.1 L835.5,256.5 L831.0,324.7 L831.0,330.3 L826.5,340.3 L826.5,334.1 L822.0,331.6 L822.0,329.7 L817.5,328.1 L817.5,328.2 L813.0,327.3 L813.0,326.2 L808.5,325.3 L808.5,328.6 L804.0,327.7 L804.0,323.4 L799.5,322.5 L799.5,322.8 L795.0,321.6 L795.0,325.0 L790.5,323.8 L790.5,324.4 L786.0,323.2 L786.0,317.4 L781.5,315.7 L781.5,320.8 L777.0,319.0 L777.0,317.8 L772.5,316.0 L772.5,322.0 L768.0,319.9 L768.0,318.8 L763.5,316.3 L763.5,314.5 L759.0,312.0 L759.0,312.6 L754.5,310.1 L754.5,306.9 L750.0,304.4 L750.0,302.9 L745.5,301.4 L745.5,303.0 L741.0,301.5 L741.0,298.0 L736.5,296.5 L736.5,296.7 L732.0,294.4 L732.0,299.6 L727.5,296.8 L727.5,298.8 L723.0,293.9 L723.0,293.3 L718.5,285.0 L718.5,286.3 L714.0,270.6 L714.0,267.1 L709.5,247.1 L709.5,249.5 L705.0,241.0 L705.0,237.0 L700.5,235.5 L700.5,238.0 L696.0,236.5 L696.0,234.5 L691.5,233.0 L691.5,239.5 L687.0,237.8 L687.0,234.6 L682.5,232.8 L682.5,232.2 L678.0,230.4 L678.0,228.1 L673.5,226.3 L673.5,227.0 L669.0,225.3 L669.0,222.7 L664.5,221.6 L664.5,225.7 L660.0,224.6 L660.0,221.7 L655.5,220.6 L655.5,221.6 L651.0,220.4 L651.0,223.9 L646.5,223.3 L646.5,221.7 L642.0,221.2 L642.0,218.7 L637.5,218.3 L637.5,220.2 L633.0,219.7 L633.0,225.3 L628.5,225.2 L628.5,219.3 L624.0,219.8 L624.0,218.2 L619.5,218.7 L619.5,218.4 L615.0,218.8 L615.0,216.8 L610.5,217.2 L610.5,217.6 L606.0,220.0 L606.0,218.8 L601.5,222.9 L601.5,224.6 L597.0,233.3 L597.0,233.3 L592.5,244.6 L592.5,250.4 L588.0,268.2 L588.0,264.7 L583.5,312.6 L583.5,313.2 L579.0,324.5 L579.0,325.6 L574.5,324.6 L574.5,321.6 L570.0,320.9 L570.0,321.3 L565.5,320.6 L565.5,322.0 L561.0,321.4 L561.0,323.3 L556.5,322.7 L556.5,320.0 L552.0,319.4 L552.0,320.9 L547.5,320.0 L547.5,317.7 L543.0,316.5 L543.0,319.8 L538.5,318.6 L538.5,319.0 L534.0,317.7 L534.0,315.1 L529.5,313.6 L529.5,314.0 L525.0,312.5 L525.0,312.9 L520.5,311.4 L520.5,310.6 L516.0,308.9 L516.0,311.9 L511.5,310.1 L511.5,306.5 L507.0,304.7 L507.0,305.5 L502.5,303.7 L502.5,305.4 L498.0,303.6 L498.0,304.3 L493.5,302.5 L493.5,299.2 L489.0,297.3 L489.0,296.8 L484.5,294.5 L484.5,294.9 L480.0,292.7 L480.0,289.9 L475.5,287.2 L475.5,287.0 L471.0,284.3 L471.0,287.3 L466.5,282.3 L466.5,281.7 L462.0,273.1 L462.0,277.2 L457.5,267.3 L457.5,266.9 L453.0,262.8 L453.0,258.0 L448.5,255.9 L448.5,254.5 L444.0,252.4 L444.0,252.1 L439.5,250.2 L439.5,253.4 L435.0,252.7 L435.0,254.7 L430.5,254.1 L430.5,254.3 L426.0,253.6 L426.0,254.3 L421.5,253.6 L421.5,253.2 L417.0,252.8 L417.0,251.6 L412.5,251.3 L412.5,252.1 L408.0,251.8 L408.0,259.0 L403.5,258.7 L403.5,254.9 L399.0,254.7 L399.0,249.6 L394.5,249.6 L394.5,253.7 L390.0,253.7 L390.0,250.2 L385.5,250.2 L385.5,249.8 L381.0,249.8 L381.0,249.4 L376.5,249.4 L376.5,250.1 L372.0,250.5 L372.0,254.1 L367.5,254.7 L367.5,251.9 L363.0,252.5 L363.0,251.8 L358.5,252.5 L358.5,256.2 L354.0,257.2 L354.0,256.1 L349.5,257.3 L349.5,255.4 L345.0,257.6 L345.0,256.6 L340.5,261.2 L340.5,262.2 L336.0,291.8 L336.0,294.9 L331.5,308.1 L331.5,309.6 L327.0,307.3 L327.0,306.1 L322.5,304.6 L322.5,301.6 L318.0,300.7 L318.0,298.8 L313.5,297.9 L313.5,301.9 L309.0,301.0 L309.0,301.5 L304.5,300.9 L304.5,301.3 L300.0,300.6 L300.0,297.6 L295.5,296.9 L295.5,296.4 L291.0,295.7 L291.0,296.1 L286.5,295.1 L286.5,293.5 L282.0,292.4 L282.0,294.2 L277.5,293.0 L277.5,295.3 L273.0,294.2 L273.0,294.1 L268.5,293.0 L268.5,294.2 L264.0,293.1 L264.0,290.4 L259.5,289.2 L259.5,290.5 L255.0,289.3 L255.0,287.8 L250.5,286.6 L250.5,287.9 L246.0,287.0 L246.0,286.8 L241.5,285.9 L241.5,286.3 L237.0,285.4 L237.0,285.8 L232.5,284.9 L232.5,291.6 L228.0,290.9 L228.0,283.2 L223.5,282.8 L223.5,283.4 L219.0,283.0 L219.0,283.4 L214.5,283.0 L214.5,284.4 L210.0,283.9Z" fill="#1f497d" stroke="none"/>
<path d="M210.0,271.0 L211.0,271.1 L212.0,271.2 L213.0,271.3 L214.0,271.4 L215.0,271.5 L216.0,271.6 L217.0,271.7 L218.0,271.8 L219.0,271.9 L220.0,272.0 L221.0,272.1 L222.0,272.2 L223.0,272.3 L224.0,272.4 L225.0,272.5 L226.0,272.6 L227.0,272.7 L228.0,272.8 L229.0,272.9 L230.0,273.0 L231.0,273.2 L232.0,273.4 L233.0,273.6 L234.0,273.8 L235.0,274.0 L236.0,274.2 L237.0,274.4 L238.0,274.6 L239.0,274.8 L240.0,275.0 L241.0,275.2 L242.0,275.4 L243.0,275.6 L244.0,275.8 L245.0,276.0 L246.0,276.2 L247.0,276.4 L248.0,276.6 L249.0,276.8 L250.0,277.0 L251.0,277.2 L252.0,277.5 L253.0,277.8 L254.0,278.0 L255.0,278.2 L256.0,278.5 L257.0,278.8 L258.0,279.0 L259.0,279.2 L260.0,279.5 L261.0,279.8 L262.0,280.0 L263.0,280.2 L264.0,280.5 L265.0,280.8 L266.0,281.0 L267.0,281.2 L268.0,281.5 L269.0,281.8 L270.0,282.0 L271.0,282.2 L272.0,282.5 L273.0,282.8 L274.0,283.0 L275.0,283.2 L276.0,283.5 L277.0,283.8 L278.0,284.0 L279.0,284.2 L280.0,284.5 L281.0,284.8 L282.0,285.0 L283.0,285.2 L284.0,285.5 L285.0,285.8 L286.0,286.0 L287.0,286.2 L288.0,286.5 L289.0,286.8 L290.0,287.0 L291.0,287.1 L292.0,287.3 L293.0,287.4 L294.0,287.6 L295.0,287.8 L296.0,287.9 L297.0,288.1 L298.0,288.2 L299.0,288.4 L300.0,288.5 L301.0,288.6 L302.0,288.8 L303.0,288.9 L304.0,289.1 L305.0,289.2 L306.0,289.4 L307.0,289.6 L308.0,289.7 L309.0,289.9 L310.0,290.0 L311.0,290.2 L312.0,290.4 L313.0,290.6 L314.0,290.8 L315.0,291.0 L316.0,291.2 L317.0,291.4 L318.0,291.6 L319.0,291.8 L320.0,292.0 L321.0,292.2 L322.0,292.4 L323.0,292.6 L324.0,292.8 L325.0,293.0 L326.0,293.5 L327.0,294.0 L328.0,294.5 L329.0,295.0 L330.0,295.5 L331.0,296.0 L332.0,296.5 L333.0,297.0 L334.0,295.0 L335.0,293.0 L336.0,283.0 L337.0,272.7 L338.0,262.0 L339.0,258.0 L340.0,254.0 L341.0,252.7 L342.0,251.3 L343.0,250.0 L344.0,249.4 L345.0,248.8 L346.0,248.2 L347.0,247.6 L348.0,247.0 L349.0,246.7 L350.0,246.4 L351.0,246.1 L352.0,245.9 L353.0,245.6 L354.0,245.3 L355.0,245.0 L356.0,244.8 L357.0,244.6 L358.0,244.4 L359.0,244.2 L360.0,244.0 L361.0,243.9 L362.0,243.7 L363.0,243.6 L364.0,243.5 L365.0,243.3 L366.0,243.2 L367.0,243.1 L368.0,242.9 L369.0,242.8 L370.0,242.7 L371.0,242.5 L372.0,242.4 L373.0,242.3 L374.0,242.1 L375.0,242.0 L376.0,242.0 L377.0,242.0 L378.0,242.0 L379.0,242.0 L380.0,242.0 L381.0,242.0 L382.0,242.0 L383.0,242.0 L384.0,242.0 L385.0,242.0 L386.0,242.0 L387.0,242.0 L388.0,242.0 L389.0,242.0 L390.0,242.0 L391.0,242.0 L392.0,242.0 L393.0,242.0 L394.0,242.0 L395.0,242.0 L396.0,242.0 L397.0,242.0 L398.0,242.0 L399.0,242.0 L400.0,242.0 L401.0,242.1 L402.0,242.1 L403.0,242.2 L404.0,242.2 L405.0,242.2 L406.0,242.3 L407.0,242.3 L408.0,242.4 L409.0,242.4 L410.0,242.5 L411.0,242.6 L412.0,242.6 L413.0,242.7 L414.0,242.7 L415.0,242.8 L416.0,242.8 L417.0,242.8 L418.0,242.9 L419.0,242.9 L420.0,243.0 L421.0,243.2 L422.0,243.3 L423.0,243.4 L424.0,243.6 L425.0,243.8 L426.0,243.9 L427.0,244.1 L428.0,244.2 L429.0,244.3 L430.0,244.5 L431.0,244.7 L432.0,244.8 L433.0,244.9 L434.0,245.1 L435.0,245.2 L436.0,245.4 L437.0,245.6 L438.0,245.7 L439.0,245.8 L440.0,246.0 L441.0,246.5 L442.0,246.9 L443.0,247.4 L444.0,247.9 L445.0,248.3 L446.0,248.8 L447.0,249.3 L448.0,249.7 L449.0,250.2 L450.0,250.7 L451.0,251.1 L452.0,251.6 L453.0,252.1 L454.0,252.5 L455.0,253.0 L456.0,254.2 L457.0,255.5 L458.0,256.8 L459.0,258.0 L460.0,260.7 L461.0,263.3 L462.0,266.0 L463.0,268.0 L464.0,270.0 L465.0,272.0 L466.0,274.0 L467.0,275.2 L468.0,276.5 L469.0,277.8 L470.0,279.0 L471.0,279.6 L472.0,280.2 L473.0,280.8 L474.0,281.4 L475.0,282.0 L476.0,282.6 L477.0,283.2 L478.0,283.8 L479.0,284.4 L480.0,285.0 L481.0,285.5 L482.0,286.0 L483.0,286.5 L484.0,287.0 L485.0,287.5 L486.0,288.0 L487.0,288.5 L488.0,289.0 L489.0,289.5 L490.0,290.0 L491.0,290.4 L492.0,290.8 L493.0,291.2 L494.0,291.6 L495.0,292.0 L496.0,292.4 L497.0,292.8 L498.0,293.2 L499.0,293.6 L500.0,294.0 L501.0,294.4 L502.0,294.8 L503.0,295.2 L504.0,295.6 L505.0,296.0 L506.0,296.4 L507.0,296.8 L508.0,297.2 L509.0,297.6 L510.0,298.0 L511.0,298.4 L512.0,298.8 L513.0,299.2 L514.0,299.6 L515.0,300.0 L516.0,300.4 L517.0,300.8 L518.0,301.2 L519.0,301.6 L520.0,302.0 L521.0,302.3 L522.0,302.7 L523.0,303.0 L524.0,303.3 L525.0,303.7 L526.0,304.0 L527.0,304.3 L528.0,304.7 L529.0,305.0 L530.0,305.3 L531.0,305.7 L532.0,306.0 L533.0,306.3 L534.0,306.7 L535.0,307.0 L536.0,307.3 L537.0,307.5 L538.0,307.8 L539.0,308.1 L540.0,308.3 L541.0,308.6 L542.0,308.9 L543.0,309.1 L544.0,309.4 L545.0,309.7 L546.0,309.9 L547.0,310.2 L548.0,310.5 L549.0,310.7 L550.0,311.0 L551.0,311.1 L552.0,311.3 L553.0,311.4 L554.0,311.5 L555.0,311.7 L556.0,311.8 L557.0,311.9 L558.0,312.1 L559.0,312.2 L560.0,312.3 L561.0,312.5 L562.0,312.6 L563.0,312.7 L564.0,312.9 L565.0,313.0 L566.0,313.2 L567.0,313.3 L568.0,313.5 L569.0,313.6 L570.0,313.8 L571.0,313.9 L572.0,314.1 L573.0,314.2 L574.0,314.4 L575.0,314.5 L576.0,314.7 L577.0,314.8 L578.0,315.0 L579.0,315.5 L580.0,316.0 L581.0,316.5 L582.0,317.0 L583.0,308.5 L584.0,300.0 L585.0,287.3 L586.0,274.7 L587.0,262.0 L588.0,256.3 L589.0,250.7 L590.0,245.0 L591.0,242.4 L592.0,239.8 L593.0,237.2 L594.0,234.6 L595.0,232.0 L596.0,229.6 L597.0,227.2 L598.0,224.8 L599.0,222.4 L600.0,220.0 L601.0,219.0 L602.0,218.0 L603.0,217.0 L604.0,216.0 L605.0,215.0 L606.0,214.4 L607.0,213.8 L608.0,213.2 L609.0,212.6 L610.0,212.0 L611.0,211.9 L612.0,211.8 L613.0,211.7 L614.0,211.6 L615.0,211.5 L616.0,211.4 L617.0,211.3 L618.0,211.2 L619.0,211.1 L620.0,211.0 L621.0,210.9 L622.0,210.8 L623.0,210.7 L624.0,210.6 L625.0,210.5 L626.0,210.4 L627.0,210.3 L628.0,210.2 L629.0,210.1 L630.0,210.0 L631.0,210.1 L632.0,210.2 L633.0,210.3 L634.0,210.4 L635.0,210.5 L636.0,210.6 L637.0,210.7 L638.0,210.8 L639.0,210.9 L640.0,211.0 L641.0,211.1 L642.0,211.2 L643.0,211.3 L644.0,211.4 L645.0,211.5 L646.0,211.6 L647.0,211.7 L648.0,211.8 L649.0,211.9 L650.0,212.0 L651.0,212.2 L652.0,212.5 L653.0,212.8 L654.0,213.0 L655.0,213.2 L656.0,213.5 L657.0,213.8 L658.0,214.0 L659.0,214.2 L660.0,214.5 L661.0,214.8 L662.0,215.0 L663.0,215.2 L664.0,215.5 L665.0,215.8 L666.0,216.0 L667.0,216.2 L668.0,216.5 L669.0,216.8 L670.0,217.0 L671.0,217.4 L672.0,217.8 L673.0,218.2 L674.0,218.6 L675.0,219.0 L676.0,219.4 L677.0,219.8 L678.0,220.2 L679.0,220.6 L680.0,221.0 L681.0,221.4 L682.0,221.8 L683.0,222.2 L684.0,222.6 L685.0,223.0 L686.0,223.4 L687.0,223.8 L688.0,224.2 L689.0,224.6 L690.0,225.0 L691.0,225.3 L692.0,225.7 L693.0,226.0 L694.0,226.3 L695.0,226.7 L696.0,227.0 L697.0,227.3 L698.0,227.7 L699.0,228.0 L700.0,228.3 L701.0,228.7 L702.0,229.0 L703.0,229.3 L704.0,229.7 L705.0,230.0 L706.0,230.7 L707.0,231.3 L708.0,232.0 L709.0,236.3 L710.0,240.7 L711.0,245.0 L712.0,249.5 L713.0,254.0 L714.0,258.5 L715.0,263.0 L716.0,266.2 L717.0,269.4 L718.0,272.6 L719.0,275.8 L720.0,279.0 L721.0,280.1 L722.0,281.3 L723.0,282.4 L724.0,283.6 L725.0,284.7 L726.0,285.9 L727.0,287.0 L728.0,287.6 L729.0,288.2 L730.0,288.9 L731.0,289.5 L732.0,290.1 L733.0,290.8 L734.0,291.4 L735.0,292.0 L736.0,292.3 L737.0,292.7 L738.0,293.0 L739.0,293.3 L740.0,293.7 L741.0,294.0 L742.0,294.3 L743.0,294.7 L744.0,295.0 L745.0,295.3 L746.0,295.7 L747.0,296.0 L748.0,296.3 L749.0,296.7 L750.0,297.0 L751.0,297.6 L752.0,298.1 L753.0,298.6 L754.0,299.2 L755.0,299.8 L756.0,300.3 L757.0,300.9 L758.0,301.4 L759.0,301.9 L760.0,302.5 L761.0,303.1 L762.0,303.6 L763.0,304.1 L764.0,304.7 L765.0,305.2 L766.0,305.8 L767.0,306.4 L768.0,306.9 L769.0,307.4 L770.0,308.0 L771.0,308.4 L772.0,308.8 L773.0,309.2 L774.0,309.6 L775.0,310.0 L776.0,310.4 L777.0,310.8 L778.0,311.2 L779.0,311.6 L780.0,312.0 L781.0,312.4 L782.0,312.8 L783.0,313.2 L784.0,313.6 L785.0,314.0 L786.0,314.3 L787.0,314.5 L788.0,314.8 L789.0,315.1 L790.0,315.3 L791.0,315.6 L792.0,315.9 L793.0,316.1 L794.0,316.4 L795.0,316.7 L796.0,316.9 L797.0,317.2 L798.0,317.5 L799.0,317.7 L800.0,318.0 L801.0,318.2 L802.0,318.4 L803.0,318.6 L804.0,318.8 L805.0,319.0 L806.0,319.2 L807.0,319.4 L808.0,319.6 L809.0,319.8 L810.0,320.0 L811.0,320.2 L812.0,320.4 L813.0,320.6 L814.0,320.8 L815.0,321.0 L816.0,321.2 L817.0,321.4 L818.0,321.6 L819.0,321.8 L820.0,322.0 L821.0,322.6 L822.0,323.1 L823.0,323.7 L824.0,324.2 L825.0,324.8 L826.0,325.3 L827.0,325.9 L828.0,326.4 L829.0,327.0 L830.0,321.3 L831.0,315.7 L832.0,310.0 L833.0,290.0 L834.0,270.0 L835.0,255.0 L836.0,240.0 L837.0,231.7 L838.0,223.3 L839.0,215.0 L840.0,208.3 L841.0,201.7 L842.0,195.0 L843.0,190.3 L844.0,185.7 L845.0,181.0 L846.0,178.4 L847.0,175.8 L848.0,173.2 L849.0,170.6 L850.0,168.0 L851.0,166.4 L852.0,164.8 L853.0,163.2 L854.0,161.6 L855.0,160.0 L856.0,159.1 L857.0,158.2 L858.0,157.3 L859.0,156.4 L860.0,155.5 L861.0,154.6 L862.0,153.7 L863.0,152.8 L864.0,151.9 L865.0,151.0 L866.0,150.9 L867.0,150.9 L868.0,150.8 L869.0,150.7 L870.0,150.7 L871.0,150.6 L872.0,150.5 L873.0,150.5 L874.0,150.4 L875.0,150.3 L876.0,150.3 L877.0,150.2 L878.0,150.1 L879.0,150.1 L880.0,150.0 L881.0,150.4 L882.0,150.8 L883.0,151.2 L884.0,151.6 L885.0,152.0 L886.0,152.4 L887.0,152.8 L888.0,153.2 L889.0,153.6 L890.0,154.0 L891.0,154.4 L892.0,154.8 L893.0,155.2 L894.0,155.6 L895.0,156.0 L896.0,156.4 L897.0,156.8 L898.0,157.2 L899.0,157.6 L900.0,158.0 L901.0,158.2 L902.0,158.4 L903.0,158.6 L904.0,158.8 L905.0,159.0 L906.0,159.2 L907.0,159.4 L908.0,159.6 L909.0,159.8 L910.0,160.0 L911.0,160.2 L912.0,160.4 L913.0,160.6 L914.0,160.8 L915.0,161.0 L916.0,161.2 L917.0,161.4 L918.0,161.6 L919.0,161.8 L920.0,162.0 L921.0,162.5 L922.0,163.0 L923.0,163.5 L924.0,164.0 L925.0,164.5 L926.0,165.0 L927.0,165.5 L928.0,166.0 L929.0,166.5 L930.0,167.0 L931.0,167.5 L932.0,168.0 L933.0,168.5 L934.0,169.0 L935.0,169.5 L936.0,170.0 L937.0,170.5 L938.0,171.0 L939.0,171.5 L940.0,172.0 L941.0,172.4 L942.0,172.7 L943.0,173.1 L944.0,173.4 L945.0,173.8 L946.0,174.1 L947.0,174.5 L948.0,174.9 L949.0,175.2 L950.0,175.6 L951.0,175.9 L952.0,176.3 L953.0,176.6 L954.0,177.0 L955.0,179.7 L956.0,182.3 L957.0,185.0 L958.0,191.7 L959.0,198.3 L960.0,205.0 L961.0,213.3 L962.0,221.7 L963.0,230.0 L964.0,235.0 L965.0,240.0 L966.0,245.0 L967.0,247.8 L968.0,250.5 L969.0,253.2 L970.0,256.0 L971.0,257.6 L972.0,259.2 L973.0,260.8 L974.0,262.4 L975.0,264.0 L976.0,265.3 L977.0,266.6 L978.0,267.9 L979.0,269.2 L980.0,270.5 L981.0,271.8 L982.0,273.1 L983.0,274.4 L984.0,275.7 L985.0,277.0 L986.0,278.2 L987.0,279.4 L988.0,280.6 L989.0,281.8 L990.0,283.0 L991.0,283.6 L992.0,284.2 L993.0,284.8 L994.0,285.4 L995.0,286.0 L996.0,286.6 L997.0,287.2 L998.0,287.8 L999.0,288.4 L1000.0,289.0 L1001.0,289.6 L1002.0,290.2 L1003.0,290.8 L1004.0,291.4 L1005.0,292.0 L1006.0,292.6 L1007.0,293.2 L1008.0,293.8 L1009.0,294.4 L1010.0,295.0 L1011.0,295.5 L1012.0,296.0 L1013.0,296.5 L1014.0,297.0 L1015.0,297.5 L1016.0,298.0 L1017.0,298.5 L1018.0,299.0 L1019.0,299.5 L1020.0,300.0 L1021.0,300.5 L1022.0,301.0 L1023.0,301.5 L1024.0,302.0 L1025.0,302.5 L1026.0,303.0 L1027.0,303.5 L1028.0,304.0 L1029.0,304.5 L1030.0,305.0 L1031.0,305.2 L1032.0,305.4 L1033.0,305.6 L1034.0,305.8 L1035.0,306.0 L1036.0,306.2 L1037.0,306.4 L1038.0,306.6 L1039.0,306.8 L1040.0,307.0 L1041.0,307.2 L1042.0,307.4 L1043.0,307.6 L1044.0,307.8 L1045.0,308.0 L1046.0,308.2 L1047.0,308.4 L1048.0,308.6 L1049.0,308.8 L1050.0,309.0 L1051.0,309.4 L1052.0,309.9 L1053.0,310.4 L1054.0,310.8 L1055.0,311.2 L1056.0,311.7 L1057.0,312.1 L1058.0,312.6 L1059.0,313.1 L1060.0,313.5 L1061.0,313.9 L1062.0,314.4 L1063.0,314.9 L1064.0,315.3 L1065.0,315.8 L1066.0,316.2 L1067.0,316.6 L1068.0,317.1 L1069.0,317.6 L1070.0,318.0 L1071.0,318.9 L1072.0,319.8 L1073.0,320.6 L1074.0,321.5 L1075.0,322.4 L1076.0,323.2 L1077.0,324.1 L1078.0,325.0 L1079.0,317.5 L1080.0,310.0 L1081.0,290.0 L1082.0,270.0 L1083.0,255.0 L1084.0,240.0 L1085.0,225.0 L1086.0,210.0 L1087.0,201.8 L1088.0,193.5 L1089.0,185.2 L1090.0,177.0 L1091.0,173.6 L1092.0,170.2 L1093.0,166.8 L1094.0,163.4 L1095.0,160.0 L1096.0,158.4 L1097.0,156.8 L1098.0,155.2 L1099.0,153.6 L1100.0,152.0 L1101.0,150.6 L1102.0,149.2 L1103.0,147.8 L1104.0,146.4 L1105.0,145.0 L1106.0,144.5 L1107.0,143.9 L1108.0,143.4 L1109.0,142.9 L1110.0,142.3 L1111.0,141.8 L1112.0,141.3 L1113.0,140.7 L1114.0,140.2 L1115.0,139.7 L1116.0,139.1 L1117.0,138.6 L1118.0,138.1 L1119.0,137.5 L1120.0,137.0 L1121.0,136.7 L1122.0,136.5 L1123.0,136.2 L1124.0,135.9 L1125.0,135.7 L1126.0,135.4 L1127.0,135.1 L1128.0,134.9 L1129.0,134.6 L1130.0,134.3 L1131.0,134.1 L1132.0,133.8 L1133.0,133.5 L1134.0,133.3 L1135.0,133.0 L1136.0,133.1 L1137.0,133.3 L1138.0,133.4 L1139.0,133.5 L1140.0,133.7 L1141.0,133.8 L1142.0,133.9 L1143.0,134.1 L1144.0,134.2 L1145.0,134.3 L1146.0,134.5 L1147.0,134.6 L1148.0,134.7 L1149.0,134.9 L1150.0,135.0 L1151.0,135.2 L1152.0,135.5 L1153.0,135.8 L1154.0,136.0 L1155.0,136.2 L1156.0,136.5 L1157.0,136.8 L1158.0,137.0 L1159.0,137.2 L1160.0,137.5 L1161.0,137.8 L1162.0,138.0 L1163.0,138.2 L1164.0,138.5 L1165.0,138.8 L1166.0,139.0 L1167.0,139.2 L1168.0,139.5 L1169.0,139.8 L1170.0,140.0 L1171.0,140.3 L1172.0,140.6 L1173.0,140.9 L1174.0,141.2 L1175.0,141.5 L1176.0,141.8 L1177.0,142.1 L1178.0,142.4 L1179.0,142.7 L1180.0,143.0 L1181.0,143.3 L1182.0,143.6 L1183.0,143.9 L1184.0,144.2 L1185.0,144.5 L1186.0,144.8 L1187.0,145.1 L1188.0,145.4 L1189.0,145.7 L1190.0,146.0 L1191.0,146.4 L1192.0,146.8 L1193.0,147.2 L1194.0,147.6 L1195.0,148.0 L1196.0,148.4 L1197.0,148.8 L1198.0,149.2 L1199.0,149.6 L1200.0,150.0 L1201.0,150.4 L1202.0,150.8 L1203.0,151.2 L1204.0,151.6 L1205.0,152.0 L1206.0,158.5 L1207.0,165.0 L1208.0,175.0 L1209.0,185.0 L1210.0,192.5 L1211.0,200.0 L1212.0,203.8 L1213.0,207.5 L1214.0,211.2 L1215.0,215.0 L1216.0,219.0 L1217.0,223.0 L1218.0,227.0 L1219.0,231.0 L1220.0,235.0 L1221.0,236.8 L1222.0,238.6 L1223.0,240.4 L1224.0,242.2 L1225.0,244.0 L1226.0,245.8 L1227.0,247.6 L1228.0,249.4 L1229.0,251.2 L1230.0,253.0 L1231.0,253.9 L1232.0,254.9 L1233.0,255.8 L1234.0,256.7 L1235.0,257.7 L1236.0,258.6 L1237.0,259.5 L1238.0,260.5 L1239.0,261.4 L1240.0,262.3 L1241.0,263.3 L1242.0,264.2 L1243.0,265.1 L1244.0,266.1 L1245.0,267.0 L1246.0,267.8 L1247.0,268.6 L1248.0,269.4 L1249.0,270.2 L1250.0,271.0 L1251.0,271.8 L1252.0,272.6 L1253.0,273.4 L1254.0,274.2 L1255.0,275.0 L1256.0,275.8 L1257.0,276.6 L1258.0,277.4 L1259.0,278.2 L1260.0,279.0 L1261.0,279.6 L1262.0,280.2 L1263.0,280.8 L1264.0,281.4 L1265.0,282.0 L1266.0,282.6 L1267.0,283.2 L1268.0,283.8 L1269.0,284.4 L1270.0,285.0 L1271.0,285.6 L1272.0,286.2 L1273.0,286.8 L1274.0,287.4 L1275.0,288.0 L1276.0,288.6 L1277.0,289.2 L1278.0,289.8 L1279.0,290.4 L1280.0,291.0 L1281.0,291.2 L1282.0,291.4 L1283.0,291.6 L1284.0,291.8 L1285.0,292.0 L1286.0,292.2 L1287.0,292.4 L1288.0,292.6 L1289.0,292.8 L1290.0,293.0 L1291.0,293.2 L1292.0,293.4 L1293.0,293.6 L1294.0,293.8 L1295.0,294.0 L1296.0,294.2 L1297.0,294.4 L1298.0,294.6 L1299.0,294.8 L1300.0,295.0 L1301.0,295.4 L1302.0,295.7 L1303.0,296.1 L1304.0,296.4 L1305.0,296.8 L1306.0,297.1 L1307.0,297.4 L1308.0,297.8 L1309.0,298.1 L1310.0,298.5 L1311.0,298.9 L1312.0,299.2 L1313.0,299.6 L1314.0,299.9 L1315.0,300.2 L1316.0,300.6 L1317.0,300.9 L1318.0,301.3 L1319.0,301.6 L1320.0,302.0 L1321.0,302.5 L1322.0,303.0 L1323.0,303.5 L1324.0,304.0 L1325.0,304.5 L1326.0,305.0 L1327.0,297.5 L1328.0,290.0 L1329.0,270.0 L1330.0,250.0 L1331.0,232.5 L1332.0,215.0 L1333.0,202.5 L1334.0,190.0 L1335.0,183.3 L1336.0,176.7 L1337.0,170.0 L1338.0,166.0 L1339.0,162.0 L1340.0,158.0 L1341.0,157.2 L1342.0,156.4 L1343.0,155.6 L1344.0,154.8 L1345.0,154.0 L1346.0,153.2 L1347.0,152.4 L1348.0,151.6 L1349.0,150.8 L1350.0,150.0 L1351.0,149.8 L1352.0,149.6 L1353.0,149.4 L1354.0,149.2 L1355.0,149.0 L1356.0,148.8 L1357.0,148.6 L1358.0,148.4 L1359.0,148.2 L1360.0,148.0 L1361.0,147.8 L1362.0,147.6 L1363.0,147.4 L1364.0,147.2 L1365.0,147.0 L1366.0,147.3 L1367.0,147.7 L1368.0,148.0 L1369.0,148.3 L1370.0,148.7 L1371.0,149.0 L1372.0,149.3 L1373.0,149.7 L1374.0,150.0 L1375.0,150.3 L1376.0,150.7 L1377.0,151.0 L1378.0,151.3 L1379.0,151.7 L1380.0,152.0 L1381.0,152.2 L1382.0,152.5 L1383.0,152.8 L1384.0,153.0 L1385.0,153.2 L1386.0,153.5 L1387.0,153.8 L1388.0,154.0 L1389.0,154.2 L1390.0,154.5 L1391.0,154.8 L1392.0,155.0 L1393.0,155.2 L1394.0,155.5 L1395.0,155.8 L1396.0,156.0 L1397.0,156.2 L1398.0,156.5 L1399.0,156.8 L1400.0,157.0 L1401.0,157.3 L1402.0,157.6 L1403.0,157.9 L1404.0,158.2 L1405.0,158.5 L1406.0,158.8 L1407.0,159.1 L1408.0,159.4 L1409.0,159.7 L1410.0,160.0 L1411.0,160.3 L1412.0,160.6 L1413.0,160.9 L1414.0,161.2 L1415.0,161.5 L1416.0,161.8 L1417.0,162.1 L1418.0,162.4 L1419.0,162.7 L1420.0,163.0 L1421.0,163.3 L1422.0,163.7 L1423.0,164.1 L1424.0,164.4 L1425.0,164.8 L1426.0,165.1 L1427.0,165.4 L1428.0,165.8 L1429.0,166.2 L1430.0,166.5 L1431.0,166.8 L1432.0,167.2 L1433.0,167.6 L1434.0,167.9 L1435.0,168.2 L1436.0,168.6 L1437.0,168.9 L1438.0,169.3 L1439.0,169.7 L1440.0,170.0 L1441.0,170.2 L1442.0,170.4 L1443.0,170.6 L1444.0,170.8 L1445.0,171.0 L1446.0,171.2 L1447.0,171.4 L1448.0,171.6 L1449.0,171.8 L1450.0,172.0 L1451.0,172.2 L1452.0,172.4 L1453.0,172.6 L1454.0,172.8 L1455.0,173.0 L1456.0,173.2 L1457.0,173.4 L1458.0,173.6 L1459.0,173.8 L1460.0,174.0 L1461.0,174.2 L1462.0,174.5 L1463.0,174.8 L1464.0,175.0 L1465.0,175.2 L1466.0,175.5 L1467.0,175.8 L1468.0,176.0 L1469.0,176.2 L1470.0,176.5 L1471.0,176.8 L1472.0,177.0 L1473.0,177.2 L1474.0,177.5 L1475.0,177.8 L1476.0,178.0 L1477.0,178.2 L1478.0,178.5 L1479.0,178.8 L1480.0,179.0 L1481.0,180.0 L1482.0,181.0 L1483.0,182.0 L1484.0,188.5 L1485.0,195.0 L1486.0,205.0 L1487.0,215.0 L1488.0,220.0 L1489.0,225.0 L1490.0,230.0 L1491.0,231.2 L1492.0,232.4 L1493.0,233.6 L1494.0,234.8 L1495.0,236.0 L1496.0,237.2 L1497.0,238.4 L1498.0,239.6 L1499.0,240.8 L1500.0,242.0 L1501.0,243.3 L1502.0,244.7 L1503.0,246.0 L1504.0,247.3 L1505.0,248.7 L1506.0,250.0 L1507.0,251.3 L1508.0,252.7 L1509.0,254.0 L1510.0,255.3 L1511.0,256.7 L1512.0,258.0 L1513.0,259.3 L1514.0,260.7 L1515.0,262.0 L1516.0,262.9 L1517.0,263.7 L1518.0,264.6 L1519.0,265.4 L1520.0,266.2 L1521.0,267.1 L1522.0,267.9 L1523.0,268.8 L1524.0,269.6 L1525.0,270.5 L1526.0,271.4 L1527.0,272.2 L1528.0,273.1 L1529.0,273.9 L1530.0,274.8 L1531.0,275.6 L1532.0,276.4 L1533.0,277.3 L1534.0,278.1 L1535.0,279.0 L1536.0,279.6 L1537.0,280.2 L1538.0,280.8 L1539.0,281.4 L1540.0,282.0 L1541.0,282.6 L1542.0,283.2 L1543.0,283.8 L1544.0,284.4 L1545.0,285.0 L1546.0,285.6 L1547.0,286.2 L1548.0,286.8 L1549.0,287.4 L1550.0,288.0 L1551.0,288.6 L1552.0,289.2 L1553.0,289.8 L1554.0,290.4 L1555.0,291.0 L1556.0,291.4 L1557.0,291.7 L1558.0,292.1 L1559.0,292.4 L1560.0,292.8 L1561.0,293.1 L1562.0,293.5 L1563.0,293.8 L1564.0,294.2 L1565.0,294.5 L1566.0,294.9 L1567.0,295.2 L1568.0,295.6 L1569.0,295.9 L1570.0,296.3 L1571.0,296.6 L1572.0,297.0 L1573.0,297.2 L1574.0,297.4 L1575.0,297.6 L1576.0,297.8 L1577.0,298.0" fill="none" stroke="#1f497d" stroke-width="6" stroke-linejoin="round"/>
</svg></body></html>
